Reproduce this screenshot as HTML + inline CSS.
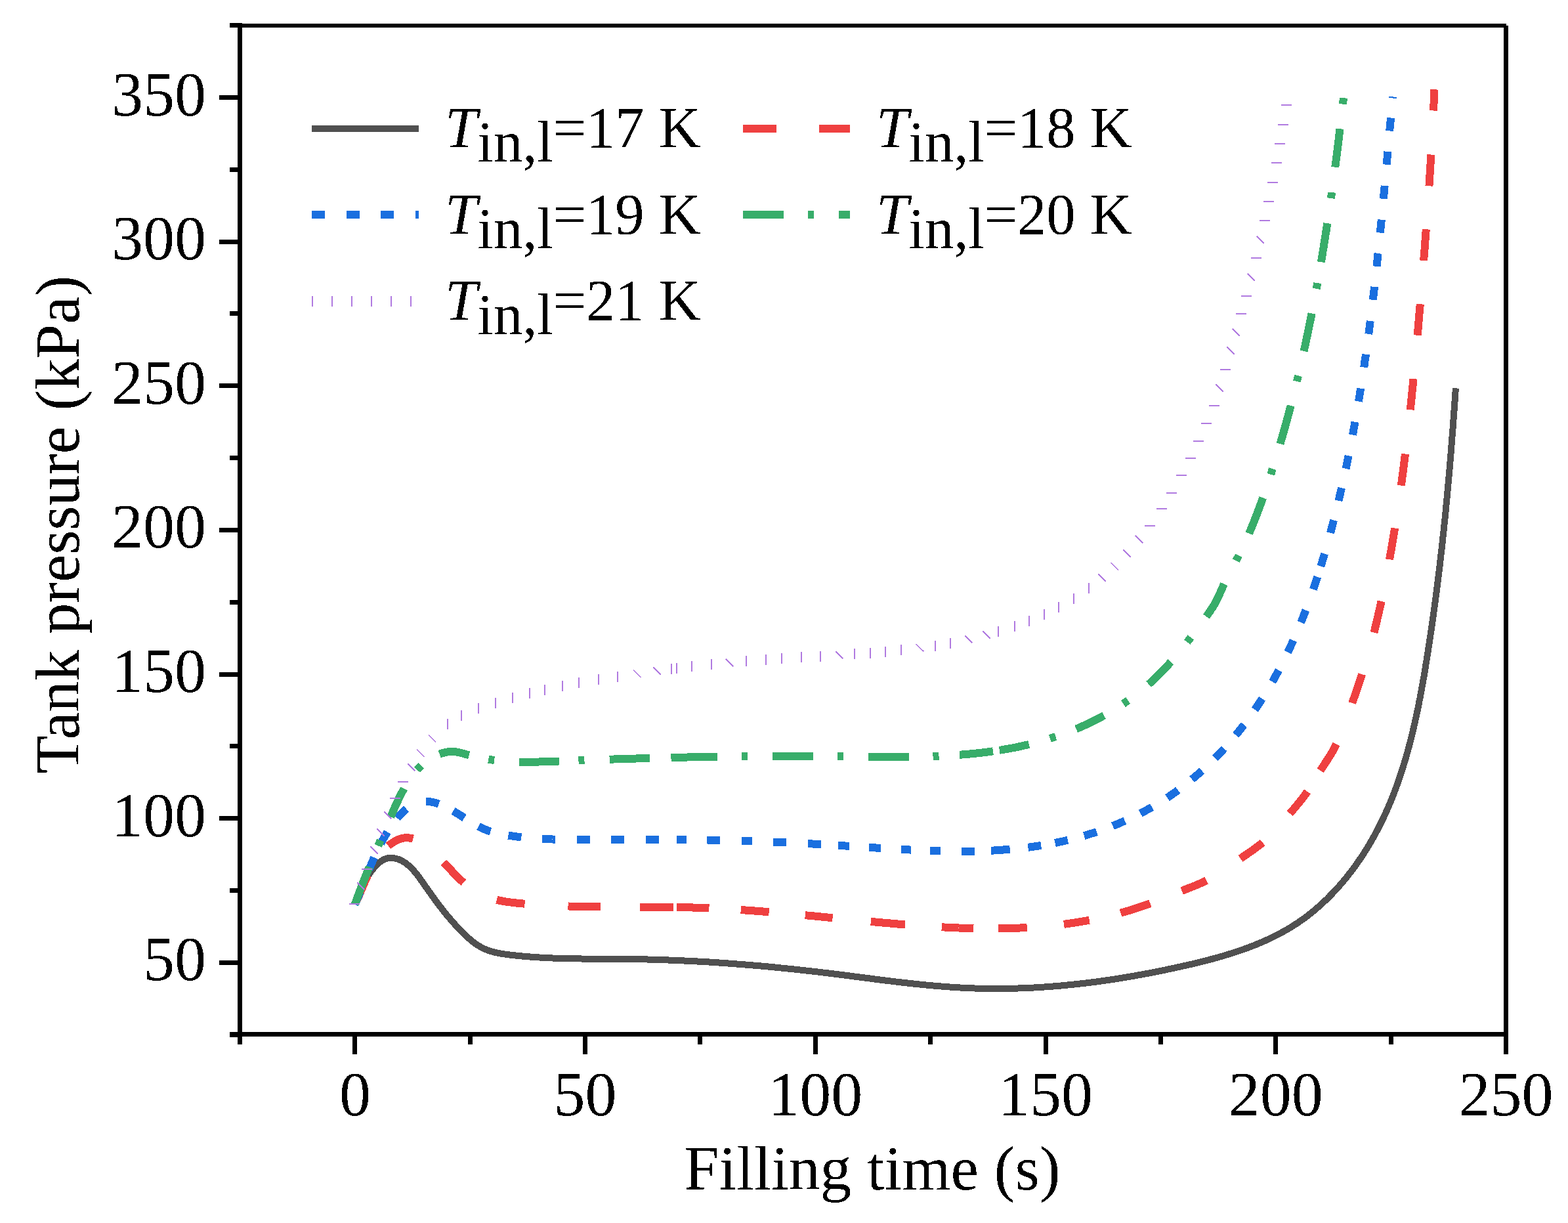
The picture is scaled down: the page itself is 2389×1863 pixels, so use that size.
<!DOCTYPE html><html><head><meta charset="utf-8"><style>html,body{margin:0;padding:0;background:#fff;}svg{display:block;}text{font-family:"Liberation Serif","Times New Roman",serif;fill:#000;}</style></head><body>
<svg width="2389" height="1863" viewBox="0 0 2389 1863">
<defs><filter id="bin" x="0" y="0" width="1" height="1" color-interpolation-filters="sRGB"><feComponentTransfer><feFuncA type="discrete" tableValues="0 1"/></feComponentTransfer></filter></defs>
<rect width="2389" height="1863" fill="#fff"/>
<path d="M540.8,1377.5 541.5,1375.6 542.2,1373.8 543.0,1371.9 543.7,1370.0 544.4,1368.2 545.2,1366.3 545.9,1364.4 546.7,1362.6 547.4,1360.7 548.2,1358.9 549.0,1357.0 549.8,1355.2 550.6,1353.4 551.4,1351.6 552.3,1349.8 553.2,1348.0 554.1,1346.2 555.0,1344.4 555.9,1342.6 556.9,1340.8 557.8,1339.1 558.9,1337.4 559.9,1335.7 561.0,1334.0 562.1,1332.3 563.2,1330.6 564.3,1329.0 565.5,1327.4 566.7,1325.8 568.0,1324.2 569.3,1322.7 570.6,1321.2 571.9,1319.7 573.3,1318.2 574.7,1316.8 576.2,1315.5 577.7,1314.1 579.3,1312.9 580.9,1311.7 582.5,1310.6 584.3,1309.6 586.1,1308.7 588.0,1308.0 589.9,1307.5 591.8,1307.1 593.8,1306.9 595.8,1306.8 597.8,1306.9 599.8,1307.1 601.8,1307.5 603.7,1307.9 605.7,1308.5 607.6,1309.1 609.4,1309.9 611.2,1310.7 613.0,1311.7 614.7,1312.7 616.4,1313.7 618.1,1314.9 619.7,1316.1 621.2,1317.3 622.8,1318.6 624.3,1320.0 625.7,1321.3 627.1,1322.8 628.5,1324.2 629.9,1325.7 631.2,1327.2 632.5,1328.7 633.7,1330.3 635.0,1331.8 636.2,1333.4 637.4,1335.0 638.6,1336.6 639.8,1338.2 641.0,1339.8 642.2,1341.5 643.3,1343.1 644.5,1344.7 645.6,1346.4 646.8,1348.0 647.9,1349.7 649.0,1351.3 650.2,1353.0 651.3,1354.6 652.5,1356.2 653.6,1357.9 654.8,1359.5 656.0,1361.1 657.1,1362.8 658.3,1364.4 659.5,1366.0 660.6,1367.6 661.8,1369.3 663.0,1370.9 664.2,1372.5 665.4,1374.1 666.6,1375.7 667.8,1377.3 669.0,1378.9 670.2,1380.5 671.4,1382.1 672.7,1383.7 673.9,1385.2 675.1,1386.8 676.4,1388.4 677.6,1389.9 678.9,1391.5 680.1,1393.1 681.4,1394.6 682.7,1396.1 684.0,1397.7 685.3,1399.2 686.6,1400.7 687.9,1402.2 689.2,1403.7 690.5,1405.3 691.9,1406.7 693.2,1408.2 694.5,1409.7 695.9,1411.2 697.2,1412.7 698.6,1414.1 700.0,1415.6 701.4,1417.0 702.8,1418.5 704.2,1419.9 705.6,1421.3 707.0,1422.7 708.4,1424.1 709.9,1425.5 711.4,1426.9 712.8,1428.2 714.3,1429.5 715.9,1430.8 717.4,1432.1 719.0,1433.4 720.5,1434.6 722.1,1435.8 723.7,1437.0 725.4,1438.2 727.0,1439.3 728.7,1440.4 730.4,1441.4 732.2,1442.4 733.9,1443.4 735.7,1444.3 737.5,1445.2 739.3,1446.0 741.2,1446.7 743.1,1447.5 744.9,1448.1 746.8,1448.8 748.8,1449.4 750.7,1449.9 752.6,1450.4 754.6,1450.9 756.5,1451.3 758.5,1451.7 760.5,1452.1 762.4,1452.5 764.4,1452.8 766.4,1453.1 768.4,1453.4 770.3,1453.7 772.3,1454.0 774.3,1454.2 776.3,1454.5 778.3,1454.7 780.3,1454.9 782.3,1455.2 784.3,1455.4 786.2,1455.6 788.2,1455.8 790.2,1456.0 792.2,1456.2 794.2,1456.4 796.2,1456.6 798.2,1456.8 800.2,1457.0 802.2,1457.1 804.2,1457.3 806.2,1457.4 808.2,1457.6 810.2,1457.7 812.2,1457.9 814.2,1458.0 816.2,1458.2 818.2,1458.3 820.2,1458.4 822.2,1458.5 824.2,1458.6 826.2,1458.8 828.2,1458.9 830.2,1459.0 832.2,1459.1 834.2,1459.1 836.2,1459.2 838.2,1459.3 840.2,1459.4 842.2,1459.5 844.2,1459.6 846.2,1459.6 848.2,1459.7 850.2,1459.8 852.2,1459.8 854.2,1459.9 856.2,1459.9 858.2,1460.0 860.2,1460.0 862.2,1460.1 864.2,1460.1 866.2,1460.2 868.2,1460.2 870.2,1460.2 872.2,1460.3 874.2,1460.3 876.2,1460.3 878.2,1460.4 880.2,1460.4 882.2,1460.4 884.2,1460.4 886.2,1460.5 888.2,1460.5 890.2,1460.5 892.2,1460.5 894.2,1460.5 896.2,1460.5 898.2,1460.6 900.2,1460.6 902.2,1460.6 904.2,1460.6 906.2,1460.6 908.2,1460.6 910.2,1460.6 912.2,1460.6 914.2,1460.6 916.2,1460.6 918.3,1460.7 920.3,1460.7 922.3,1460.7 924.3,1460.7 926.3,1460.7 928.3,1460.7 930.3,1460.7 932.3,1460.7 934.3,1460.7 936.3,1460.7 938.3,1460.7 940.3,1460.8 942.3,1460.8 944.3,1460.8 946.3,1460.8 948.3,1460.8 950.3,1460.8 952.3,1460.9 954.3,1460.9 956.3,1460.9 958.3,1460.9 960.3,1461.0 962.3,1461.0 964.3,1461.0 966.3,1461.1 968.3,1461.1 970.3,1461.1 972.3,1461.2 974.3,1461.2 976.3,1461.2 978.3,1461.3 980.3,1461.3 982.3,1461.4 984.3,1461.4 986.3,1461.5 988.3,1461.5 990.3,1461.6 992.3,1461.6 994.3,1461.7 996.3,1461.7 998.3,1461.8 1000.3,1461.9 1002.3,1461.9 1004.3,1462.0 1006.3,1462.0 1008.3,1462.1 1010.3,1462.2 1012.4,1462.2 1014.4,1462.3 1016.4,1462.4 1018.4,1462.5 1020.4,1462.5 1022.4,1462.6 1024.4,1462.7 1026.4,1462.8 1028.4,1462.9 1030.4,1462.9 1032.4,1463.0 1034.4,1463.1 1036.4,1463.2 1038.4,1463.3 1040.4,1463.4 1042.4,1463.5 1044.4,1463.6 1046.4,1463.7 1048.4,1463.8 1050.4,1463.9 1052.4,1464.0 1054.4,1464.1 1056.4,1464.2 1058.4,1464.3 1060.4,1464.4 1062.4,1464.5 1064.4,1464.6 1066.4,1464.7 1068.4,1464.8 1070.4,1465.0 1072.4,1465.1 1074.4,1465.2 1076.4,1465.3 1078.4,1465.4 1080.4,1465.5 1082.4,1465.7 1084.4,1465.8 1086.3,1465.9 1088.3,1466.1 1090.3,1466.2 1092.3,1466.3 1094.3,1466.4 1096.3,1466.6 1098.3,1466.7 1100.3,1466.9 1102.3,1467.0 1104.3,1467.1 1106.3,1467.3 1108.3,1467.4 1110.3,1467.6 1112.3,1467.7 1114.3,1467.8 1116.3,1468.0 1118.3,1468.1 1120.3,1468.3 1122.3,1468.5 1124.3,1468.6 1126.3,1468.8 1128.3,1468.9 1130.3,1469.1 1132.3,1469.2 1134.3,1469.4 1136.3,1469.6 1138.3,1469.7 1140.3,1469.9 1142.3,1470.1 1144.3,1470.2 1146.3,1470.4 1148.3,1470.6 1150.2,1470.7 1152.2,1470.9 1154.2,1471.1 1156.2,1471.3 1158.2,1471.4 1160.2,1471.6 1162.2,1471.8 1164.2,1472.0 1166.2,1472.2 1168.2,1472.3 1170.2,1472.5 1172.2,1472.7 1174.2,1472.9 1176.2,1473.1 1178.2,1473.3 1180.2,1473.5 1182.2,1473.7 1184.1,1473.9 1186.1,1474.1 1188.1,1474.3 1190.1,1474.5 1192.1,1474.7 1194.1,1474.9 1196.1,1475.1 1198.1,1475.3 1200.1,1475.5 1202.1,1475.7 1204.1,1475.9 1206.1,1476.1 1208.1,1476.3 1210.0,1476.5 1212.0,1476.7 1214.0,1476.9 1216.0,1477.2 1218.0,1477.4 1220.0,1477.6 1222.0,1477.8 1224.0,1478.0 1226.0,1478.2 1228.0,1478.5 1229.9,1478.7 1231.9,1478.9 1233.9,1479.1 1235.9,1479.4 1237.9,1479.6 1239.9,1479.8 1241.9,1480.1 1243.9,1480.3 1245.9,1480.5 1247.9,1480.8 1249.8,1481.0 1251.8,1481.2 1253.8,1481.5 1255.8,1481.7 1257.8,1481.9 1259.8,1482.2 1261.8,1482.4 1263.8,1482.7 1265.7,1482.9 1267.7,1483.2 1269.7,1483.4 1271.7,1483.7 1273.7,1483.9 1275.7,1484.2 1277.7,1484.4 1279.7,1484.7 1281.6,1484.9 1283.6,1485.2 1285.6,1485.4 1287.6,1485.7 1289.6,1485.9 1291.6,1486.2 1293.6,1486.4 1295.5,1486.7 1297.5,1486.9 1299.5,1487.2 1301.5,1487.5 1303.5,1487.7 1305.5,1488.0 1307.5,1488.2 1309.4,1488.5 1311.4,1488.7 1313.4,1489.0 1315.4,1489.3 1317.4,1489.5 1319.4,1489.8 1321.4,1490.0 1323.4,1490.3 1325.3,1490.5 1327.3,1490.8 1329.3,1491.0 1331.3,1491.3 1333.3,1491.6 1335.3,1491.8 1337.3,1492.1 1339.2,1492.3 1341.2,1492.6 1343.2,1492.8 1345.2,1493.1 1347.2,1493.3 1349.2,1493.6 1351.2,1493.8 1353.2,1494.0 1355.1,1494.3 1357.1,1494.5 1359.1,1494.8 1361.1,1495.0 1363.1,1495.3 1365.1,1495.5 1367.1,1495.7 1369.1,1496.0 1371.0,1496.2 1373.0,1496.4 1375.0,1496.7 1377.0,1496.9 1379.0,1497.1 1381.0,1497.3 1383.0,1497.6 1385.0,1497.8 1387.0,1498.0 1389.0,1498.2 1390.9,1498.4 1392.9,1498.7 1394.9,1498.9 1396.9,1499.1 1398.9,1499.3 1400.9,1499.5 1402.9,1499.7 1404.9,1499.9 1406.9,1500.1 1408.9,1500.3 1410.9,1500.5 1412.9,1500.7 1414.9,1500.9 1416.8,1501.1 1418.8,1501.2 1420.8,1501.4 1422.8,1501.6 1424.8,1501.8 1426.8,1501.9 1428.8,1502.1 1430.8,1502.3 1432.8,1502.4 1434.8,1502.6 1436.8,1502.8 1438.8,1502.9 1440.8,1503.1 1442.8,1503.2 1444.8,1503.4 1446.8,1503.5 1448.8,1503.6 1450.8,1503.8 1452.8,1503.9 1454.8,1504.0 1456.8,1504.2 1458.8,1504.3 1460.8,1504.4 1462.8,1504.5 1464.8,1504.6 1466.8,1504.7 1468.8,1504.8 1470.8,1504.9 1472.8,1505.0 1474.8,1505.1 1476.8,1505.2 1478.8,1505.3 1480.8,1505.3 1482.8,1505.4 1484.8,1505.5 1486.8,1505.5 1488.8,1505.6 1490.8,1505.7 1492.8,1505.7 1494.8,1505.8 1496.8,1505.8 1498.8,1505.8 1500.8,1505.9 1502.8,1505.9 1504.8,1505.9 1506.8,1506.0 1508.8,1506.0 1510.8,1506.0 1512.8,1506.0 1514.8,1506.0 1516.8,1506.0 1518.8,1506.0 1520.8,1506.0 1522.8,1506.0 1524.8,1506.0 1526.8,1506.0 1528.8,1506.0 1530.8,1505.9 1532.8,1505.9 1534.8,1505.9 1536.8,1505.8 1538.8,1505.8 1540.8,1505.8 1542.8,1505.7 1544.8,1505.7 1546.8,1505.6 1548.8,1505.6 1550.8,1505.5 1552.8,1505.4 1554.9,1505.4 1556.9,1505.3 1558.9,1505.2 1560.9,1505.1 1562.9,1505.1 1564.9,1505.0 1566.9,1504.9 1568.9,1504.8 1570.9,1504.7 1572.9,1504.6 1574.9,1504.5 1576.9,1504.4 1578.9,1504.3 1580.9,1504.1 1582.9,1504.0 1584.9,1503.9 1586.9,1503.8 1588.8,1503.6 1590.8,1503.5 1592.8,1503.4 1594.8,1503.2 1596.8,1503.1 1598.8,1502.9 1600.8,1502.8 1602.8,1502.6 1604.8,1502.5 1606.8,1502.3 1608.8,1502.2 1610.8,1502.0 1612.8,1501.8 1614.8,1501.6 1616.8,1501.5 1618.8,1501.3 1620.8,1501.1 1622.8,1500.9 1624.8,1500.7 1626.8,1500.5 1628.8,1500.3 1630.8,1500.1 1632.7,1499.9 1634.7,1499.7 1636.7,1499.5 1638.7,1499.3 1640.7,1499.1 1642.7,1498.9 1644.7,1498.6 1646.7,1498.4 1648.7,1498.2 1650.7,1498.0 1652.6,1497.7 1654.6,1497.5 1656.6,1497.2 1658.6,1497.0 1660.6,1496.7 1662.6,1496.5 1664.6,1496.2 1666.6,1496.0 1668.5,1495.7 1670.5,1495.5 1672.5,1495.2 1674.5,1494.9 1676.5,1494.6 1678.5,1494.4 1680.4,1494.1 1682.4,1493.8 1684.4,1493.5 1686.4,1493.2 1688.4,1493.0 1690.4,1492.7 1692.3,1492.4 1694.3,1492.1 1696.3,1491.8 1698.3,1491.5 1700.3,1491.2 1702.2,1490.8 1704.2,1490.5 1706.2,1490.2 1708.2,1489.9 1710.1,1489.6 1712.1,1489.3 1714.1,1488.9 1716.1,1488.6 1718.0,1488.3 1720.0,1487.9 1722.0,1487.6 1724.0,1487.3 1725.9,1486.9 1727.9,1486.6 1729.9,1486.2 1731.9,1485.9 1733.8,1485.5 1735.8,1485.2 1737.8,1484.8 1739.7,1484.4 1741.7,1484.1 1743.7,1483.7 1745.6,1483.3 1747.6,1483.0 1749.6,1482.6 1751.5,1482.2 1753.5,1481.8 1755.5,1481.5 1757.4,1481.1 1759.4,1480.7 1761.4,1480.3 1763.3,1479.9 1765.3,1479.5 1767.3,1479.1 1769.2,1478.7 1771.2,1478.3 1773.1,1477.9 1775.1,1477.5 1777.1,1477.1 1779.0,1476.7 1781.0,1476.3 1782.9,1475.9 1784.9,1475.4 1786.9,1475.0 1788.8,1474.6 1790.8,1474.2 1792.7,1473.8 1794.7,1473.3 1796.6,1472.9 1798.6,1472.5 1800.6,1472.0 1802.5,1471.6 1804.5,1471.2 1806.4,1470.7 1808.4,1470.3 1810.3,1469.8 1812.3,1469.4 1814.2,1468.9 1816.2,1468.5 1818.1,1468.0 1820.1,1467.5 1822.0,1467.1 1824.0,1466.6 1825.9,1466.1 1827.9,1465.7 1829.8,1465.2 1831.7,1464.7 1833.7,1464.2 1835.6,1463.7 1837.6,1463.2 1839.5,1462.7 1841.4,1462.2 1843.4,1461.7 1845.3,1461.2 1847.3,1460.7 1849.2,1460.2 1851.1,1459.6 1853.0,1459.1 1855.0,1458.6 1856.9,1458.0 1858.8,1457.5 1860.8,1456.9 1862.7,1456.4 1864.6,1455.8 1866.5,1455.2 1868.4,1454.6 1870.4,1454.1 1872.3,1453.5 1874.2,1452.9 1876.1,1452.3 1878.0,1451.7 1879.9,1451.1 1881.8,1450.4 1883.7,1449.8 1885.6,1449.2 1887.5,1448.5 1889.4,1447.9 1891.3,1447.2 1893.2,1446.6 1895.1,1445.9 1897.0,1445.2 1898.8,1444.6 1900.7,1443.9 1902.6,1443.2 1904.5,1442.5 1906.3,1441.7 1908.2,1441.0 1910.1,1440.3 1911.9,1439.6 1913.8,1438.8 1915.6,1438.0 1917.5,1437.3 1919.3,1436.5 1921.2,1435.7 1923.0,1434.9 1924.9,1434.1 1926.7,1433.3 1928.5,1432.5 1930.3,1431.7 1932.2,1430.8 1934.0,1430.0 1935.8,1429.1 1937.6,1428.3 1939.4,1427.4 1941.2,1426.5 1943.0,1425.6 1944.8,1424.7 1946.6,1423.8 1948.3,1422.9 1950.1,1421.9 1951.9,1421.0 1953.6,1420.0 1955.4,1419.1 1957.1,1418.1 1958.9,1417.1 1960.6,1416.1 1962.3,1415.1 1964.0,1414.0 1965.8,1413.0 1967.5,1412.0 1969.2,1410.9 1970.9,1409.8 1972.6,1408.8 1974.2,1407.7 1975.9,1406.6 1977.6,1405.5 1979.2,1404.3 1980.9,1403.2 1982.5,1402.1 1984.2,1400.9 1985.8,1399.7 1987.4,1398.6 1989.0,1397.4 1990.6,1396.2 1992.2,1395.0 1993.8,1393.7 1995.4,1392.5 1996.9,1391.3 1998.5,1390.0 2000.1,1388.7 2001.6,1387.5 2003.1,1386.2 2004.7,1384.9 2006.2,1383.6 2007.7,1382.3 2009.2,1381.0 2010.7,1379.6 2012.2,1378.3 2013.7,1376.9 2015.2,1375.6 2016.6,1374.2 2018.1,1372.8 2019.5,1371.5 2021.0,1370.1 2022.4,1368.7 2023.8,1367.3 2025.2,1365.9 2026.6,1364.4 2028.0,1363.0 2029.4,1361.6 2030.8,1360.1 2032.2,1358.7 2033.6,1357.2 2034.9,1355.7 2036.3,1354.3 2037.6,1352.8 2039.0,1351.3 2040.3,1349.8 2041.6,1348.3 2042.9,1346.8 2044.2,1345.3 2045.5,1343.7 2046.8,1342.2 2048.1,1340.7 2049.4,1339.1 2050.7,1337.6 2051.9,1336.0 2053.2,1334.4 2054.4,1332.9 2055.6,1331.3 2056.9,1329.7 2058.1,1328.1 2059.3,1326.5 2060.5,1324.9 2061.7,1323.3 2062.9,1321.7 2064.1,1320.1 2065.3,1318.5 2066.4,1316.9 2067.6,1315.2 2068.7,1313.6 2069.9,1311.9 2071.0,1310.3 2072.1,1308.6 2073.3,1307.0 2074.4,1305.3 2075.5,1303.6 2076.6,1302.0 2077.7,1300.3 2078.7,1298.6 2079.8,1296.9 2080.9,1295.2 2081.9,1293.5 2083.0,1291.8 2084.0,1290.1 2085.1,1288.4 2086.1,1286.7 2087.1,1284.9 2088.1,1283.2 2089.1,1281.5 2090.1,1279.8 2091.1,1278.0 2092.1,1276.3 2093.1,1274.5 2094.1,1272.8 2095.0,1271.0 2096.0,1269.3 2096.9,1267.5 2097.9,1265.7 2098.8,1263.9 2099.7,1262.2 2100.6,1260.4 2101.5,1258.6 2102.4,1256.8 2103.3,1255.0 2104.2,1253.2 2105.1,1251.4 2106.0,1249.6 2106.8,1247.8 2107.7,1246.0 2108.6,1244.2 2109.4,1242.4 2110.2,1240.6 2111.1,1238.7 2111.9,1236.9 2112.7,1235.1 2113.5,1233.3 2114.3,1231.4 2115.1,1229.6 2115.9,1227.8 2116.7,1225.9 2117.5,1224.1 2118.3,1222.2 2119.0,1220.4 2119.8,1218.5 2120.5,1216.7 2121.3,1214.8 2122.0,1212.9 2122.7,1211.1 2123.5,1209.2 2124.2,1207.3 2124.9,1205.5 2125.6,1203.6 2126.3,1201.7 2127.0,1199.8 2127.7,1198.0 2128.4,1196.1 2129.0,1194.2 2129.7,1192.3 2130.4,1190.4 2131.0,1188.5 2131.7,1186.6 2132.3,1184.7 2133.0,1182.8 2133.6,1180.9 2134.2,1179.0 2134.9,1177.1 2135.5,1175.2 2136.1,1173.3 2136.7,1171.4 2137.3,1169.5 2137.9,1167.6 2138.5,1165.7 2139.1,1163.8 2139.7,1161.8 2140.3,1159.9 2140.8,1158.0 2141.4,1156.1 2142.0,1154.2 2142.5,1152.2 2143.1,1150.3 2143.6,1148.4 2144.2,1146.5 2144.7,1144.5 2145.2,1142.6 2145.7,1140.7 2146.3,1138.7 2146.8,1136.8 2147.3,1134.9 2147.8,1132.9 2148.3,1131.0 2148.8,1129.1 2149.3,1127.1 2149.8,1125.2 2150.3,1123.2 2150.8,1121.3 2151.3,1119.4 2151.7,1117.4 2152.2,1115.5 2152.7,1113.5 2153.1,1111.6 2153.6,1109.6 2154.1,1107.7 2154.5,1105.7 2155.0,1103.8 2155.4,1101.8 2155.8,1099.9 2156.3,1097.9 2156.7,1095.9 2157.1,1094.0 2157.6,1092.0 2158.0,1090.1 2158.4,1088.1 2158.8,1086.2 2159.2,1084.2 2159.7,1082.2 2160.1,1080.3 2160.5,1078.3 2160.9,1076.4 2161.3,1074.4 2161.7,1072.4 2162.0,1070.5 2162.4,1068.5 2162.8,1066.5 2163.2,1064.6 2163.6,1062.6 2164.0,1060.6 2164.3,1058.7 2164.7,1056.7 2165.1,1054.7 2165.4,1052.8 2165.8,1050.8 2166.2,1048.8 2166.5,1046.9 2166.9,1044.9 2167.2,1042.9 2167.6,1040.9 2167.9,1039.0 2168.3,1037.0 2168.6,1035.0 2169.0,1033.1 2169.3,1031.1 2169.7,1029.1 2170.0,1027.1 2170.3,1025.2 2170.7,1023.2 2171.0,1021.2 2171.3,1019.2 2171.7,1017.3 2172.0,1015.3 2172.3,1013.3 2172.6,1011.3 2173.0,1009.4 2173.3,1007.4 2173.6,1005.4 2173.9,1003.4 2174.2,1001.5 2174.5,999.5 2174.9,997.5 2175.2,995.5 2175.5,993.5 2175.8,991.6 2176.1,989.6 2176.4,987.6 2176.7,985.6 2177.0,983.6 2177.3,981.7 2177.6,979.7 2177.9,977.7 2178.2,975.7 2178.5,973.7 2178.8,971.8 2179.1,969.8 2179.4,967.8 2179.7,965.8 2180.0,963.8 2180.3,961.9 2180.6,959.9 2180.9,957.9 2181.2,955.9 2181.5,953.9 2181.7,952.0 2182.0,950.0 2182.3,948.0 2182.6,946.0 2182.9,944.0 2183.2,942.0 2183.4,940.1 2183.7,938.1 2184.0,936.1 2184.3,934.1 2184.5,932.1 2184.8,930.1 2185.1,928.2 2185.4,926.2 2185.6,924.2 2185.9,922.2 2186.2,920.2 2186.4,918.2 2186.7,916.3 2187.0,914.3 2187.2,912.3 2187.5,910.3 2187.7,908.3 2188.0,906.3 2188.3,904.3 2188.5,902.4 2188.8,900.4 2189.0,898.4 2189.3,896.4 2189.5,894.4 2189.8,892.4 2190.0,890.4 2190.3,888.4 2190.5,886.5 2190.8,884.5 2191.0,882.5 2191.3,880.5 2191.5,878.5 2191.8,876.5 2192.0,874.5 2192.3,872.6 2192.5,870.6 2192.7,868.6 2193.0,866.6 2193.2,864.6 2193.5,862.6 2193.7,860.6 2193.9,858.6 2194.2,856.6 2194.4,854.7 2194.6,852.7 2194.9,850.7 2195.1,848.7 2195.3,846.7 2195.5,844.7 2195.8,842.7 2196.0,840.7 2196.2,838.7 2196.5,836.7 2196.7,834.8 2196.9,832.8 2197.1,830.8 2197.3,828.8 2197.6,826.8 2197.8,824.8 2198.0,822.8 2198.2,820.8 2198.4,818.8 2198.6,816.8 2198.9,814.9 2199.1,812.9 2199.3,810.9 2199.5,808.9 2199.7,806.9 2199.9,804.9 2200.1,802.9 2200.3,800.9 2200.5,798.9 2200.7,796.9 2200.9,794.9 2201.1,792.9 2201.4,791.0 2201.6,789.0 2201.8,787.0 2202.0,785.0 2202.2,783.0 2202.4,781.0 2202.6,779.0 2202.7,777.0 2202.9,775.0 2203.1,773.0 2203.3,771.0 2203.5,769.0 2203.7,767.0 2203.9,765.0 2204.1,763.1 2204.3,761.1 2204.5,759.1 2204.7,757.1 2204.9,755.1 2205.0,753.1 2205.2,751.1 2205.4,749.1 2205.6,747.1 2205.8,745.1 2206.0,743.1 2206.2,741.1 2206.3,739.1 2206.5,737.1 2206.7,735.1 2206.9,733.1 2207.1,731.1 2207.2,729.2 2207.4,727.2 2207.6,725.2 2207.8,723.2 2207.9,721.2 2208.1,719.2 2208.3,717.2 2208.5,715.2 2208.6,713.2 2208.8,711.2 2209.0,709.2 2209.1,707.2 2209.3,705.2 2209.5,703.2 2209.6,701.2 2209.8,699.2 2210.0,697.2 2210.1,695.2 2210.3,693.2 2210.5,691.2 2210.6,689.2 2210.8,687.3 2211.0,685.3 2211.1,683.3 2211.3,681.3 2211.4,679.3 2211.6,677.3 2211.8,675.3 2211.9,673.3 2212.1,671.3 2212.2,669.3 2212.4,667.3 2212.5,665.3 2212.7,663.3 2212.9,661.3 2213.0,659.3 2213.2,657.3 2213.3,655.3 2213.5,653.3 2213.6,651.3 2213.8,649.3 2213.9,647.3 2214.1,645.3 2214.2,643.3 2214.4,641.3 2214.5,639.3 2214.7,637.3 2214.8,635.3 2214.9,633.3 2215.1,631.3 2215.2,629.4 2215.4,627.4 2215.5,625.4 2215.7,623.4 2215.8,621.4 2216.0,619.4 2216.1,617.4 2216.2,615.4 2216.4,613.4 2216.5,611.4 2216.7,609.4 2216.8,607.4 2216.9,605.4 2217.1,603.4 2217.2,601.4 2217.4,599.4 2217.5,597.4 2217.6,595.4 2217.8,593.4 2217.9,591.4" fill="none" stroke="#505050" stroke-width="10" stroke-linejoin="round" shape-rendering="crispEdges"/>
<path d="M540.5,1378.0 541.4,1376.2 542.3,1374.4 543.1,1372.6 544.0,1370.8 544.8,1369.0 545.7,1367.2 546.5,1365.3 547.3,1363.5 548.1,1361.7 548.9,1359.8 549.6,1358.0 550.4,1356.1 551.2,1354.3 552.0,1352.4 552.8,1350.6 553.5,1348.8 554.3,1346.9 555.1,1345.1 555.9,1343.2 556.7,1341.4 557.5,1339.6 558.3,1337.7 559.1,1335.9 560.0,1334.1 560.8,1332.3 561.7,1330.5 562.5,1328.6 563.4,1326.8 564.3,1325.1 565.2,1323.3 566.1,1321.5 567.1,1319.7 568.1,1318.0 569.1,1316.3 570.1,1314.5 571.1,1312.8 572.2,1311.1 573.3,1309.4 574.4,1307.8 575.5,1306.1 576.7,1304.5 577.9,1302.9 579.1,1301.3 580.4,1299.8 581.7,1298.2 583.0,1296.7 584.4,1295.3 585.8,1293.8 587.2,1292.4 588.6,1291.1 590.1,1289.7 591.7,1288.4 593.2,1287.2 594.8,1286.0 596.4,1284.8 598.1,1283.7 599.8,1282.6 601.5,1281.6 603.3,1280.6 605.1,1279.8 606.9,1279.0 608.8,1278.3 610.7,1277.6 612.6,1277.1 614.6,1276.7 616.6,1276.4 618.6,1276.3 620.6,1276.2 622.6,1276.3 624.5,1276.6 626.5,1276.9 628.5,1277.4 630.4,1277.9 632.3,1278.6 634.1,1279.4 635.9,1280.2 637.7,1281.1 639.5,1282.1 641.2,1283.1 642.9,1284.2 644.5,1285.3 646.2,1286.5 647.8,1287.7 649.4,1288.9 650.9,1290.1 652.5,1291.4 654.0,1292.6 655.6,1293.9 657.1,1295.3 658.6,1296.6 660.1,1297.9 661.5,1299.3 663.0,1300.6 664.4,1302.0 665.9,1303.4 667.3,1304.8 668.7,1306.2 670.1,1307.7 671.5,1309.1 672.9,1310.5 674.3,1312.0 675.7,1313.4 677.1,1314.9 678.5,1316.3 679.8,1317.8 681.2,1319.2 682.6,1320.7 683.9,1322.2 685.3,1323.6 686.7,1325.1 688.1,1326.5 689.4,1328.0 690.8,1329.4 692.2,1330.9 693.6,1332.3 695.0,1333.7 696.4,1335.2 697.8,1336.6 699.3,1338.0 700.7,1339.4 702.1,1340.8 703.6,1342.1 705.1,1343.5 706.6,1344.8 708.1,1346.1 709.6,1347.4 711.1,1348.7 712.7,1350.0 714.3,1351.2 715.9,1352.4 717.5,1353.6 719.1,1354.7 720.8,1355.9 722.4,1357.0 724.1,1358.0 725.9,1359.1 727.6,1360.0 729.4,1361.0 731.1,1361.9 733.0,1362.8 734.8,1363.6 736.6,1364.4 738.5,1365.2 740.3,1365.9 742.2,1366.6 744.1,1367.2 746.0,1367.9 747.9,1368.4 749.8,1369.0 751.8,1369.5 753.7,1370.0 755.7,1370.5 757.6,1371.0 759.6,1371.4 761.5,1371.8 763.5,1372.2 765.4,1372.6 767.4,1372.9 769.4,1373.3 771.4,1373.6 773.3,1373.9 775.3,1374.1 777.3,1374.4 779.3,1374.7 781.3,1374.9 783.3,1375.2 785.3,1375.4 787.3,1375.6 789.2,1375.8 791.2,1376.0 793.2,1376.2 795.2,1376.4 797.2,1376.5 799.2,1376.7 801.2,1376.9 803.2,1377.0 805.2,1377.2 807.2,1377.4 809.2,1377.5 811.2,1377.7 813.2,1377.8 815.2,1377.9 817.2,1378.1 819.2,1378.2 821.2,1378.3 823.2,1378.5 825.2,1378.6 827.2,1378.7 829.2,1378.8 831.2,1378.9 833.2,1379.0 835.2,1379.2 837.2,1379.3 839.2,1379.4 841.2,1379.5 843.2,1379.5 845.2,1379.6 847.2,1379.7 849.2,1379.8 851.2,1379.9 853.2,1380.0 855.2,1380.0 857.2,1380.1 859.2,1380.2 861.2,1380.3 863.2,1380.3 865.2,1380.4 867.2,1380.5 869.2,1380.5 871.2,1380.6 873.2,1380.6 875.2,1380.7 877.2,1380.7 879.2,1380.8 881.2,1380.8 883.2,1380.9 885.2,1380.9 887.2,1380.9 889.2,1381.0 891.2,1381.0 893.2,1381.1 895.2,1381.1 897.2,1381.1 899.2,1381.2 901.2,1381.2 903.2,1381.2 905.2,1381.2 907.2,1381.3 909.2,1381.3 911.2,1381.3 913.2,1381.3 915.2,1381.3 917.2,1381.4 919.2,1381.4 921.2,1381.4 923.2,1381.4 925.2,1381.4 927.2,1381.4 929.2,1381.4 931.2,1381.4 933.2,1381.5 935.2,1381.5 937.2,1381.5 939.2,1381.5 941.2,1381.5 943.2,1381.5 945.2,1381.5 947.2,1381.5 949.2,1381.5 951.2,1381.5 953.2,1381.5 955.2,1381.5 957.2,1381.5 959.2,1381.5 961.2,1381.5 963.3,1381.5 965.3,1381.6 967.3,1381.6 969.3,1381.6 971.3,1381.6 973.3,1381.6 975.3,1381.6 977.3,1381.6 979.3,1381.6 981.3,1381.6 983.3,1381.6 985.3,1381.6 987.3,1381.6 989.3,1381.6 991.3,1381.6 993.3,1381.6 995.3,1381.6 997.3,1381.7 999.3,1381.7 1001.3,1381.7 1003.3,1381.7 1005.3,1381.7 1007.3,1381.7 1009.3,1381.7 1011.3,1381.7 1013.3,1381.8 1015.3,1381.8 1017.3,1381.8 1019.3,1381.8 1021.3,1381.9 1023.3,1381.9 1025.3,1381.9 1027.3,1381.9 1029.3,1382.0 1031.3,1382.0 1033.3,1382.0 1035.3,1382.1 1037.3,1382.1 1039.3,1382.1 1041.3,1382.2 1043.3,1382.2 1045.3,1382.3 1047.3,1382.3 1049.3,1382.3 1051.3,1382.4 1053.3,1382.4 1055.3,1382.5 1057.3,1382.6 1059.3,1382.6 1061.3,1382.7 1063.3,1382.7 1065.3,1382.8 1067.3,1382.9 1069.3,1382.9 1071.3,1383.0 1073.3,1383.1 1075.3,1383.2 1077.3,1383.2 1079.3,1383.3 1081.3,1383.4 1083.3,1383.5 1085.3,1383.6 1087.3,1383.7 1089.3,1383.8 1091.3,1383.9 1093.3,1384.0 1095.3,1384.1 1097.3,1384.2 1099.3,1384.3 1101.3,1384.4 1103.3,1384.5 1105.3,1384.6 1107.3,1384.7 1109.3,1384.8 1111.3,1384.9 1113.3,1385.0 1115.3,1385.2 1117.3,1385.3 1119.3,1385.4 1121.3,1385.5 1123.3,1385.7 1125.3,1385.8 1127.3,1385.9 1129.3,1386.1 1131.3,1386.2 1133.3,1386.3 1135.3,1386.5 1137.3,1386.6 1139.3,1386.7 1141.3,1386.9 1143.3,1387.0 1145.3,1387.2 1147.3,1387.3 1149.3,1387.5 1151.3,1387.6 1153.3,1387.8 1155.3,1387.9 1157.3,1388.1 1159.3,1388.2 1161.3,1388.4 1163.3,1388.6 1165.2,1388.7 1167.2,1388.9 1169.2,1389.0 1171.2,1389.2 1173.2,1389.4 1175.2,1389.5 1177.2,1389.7 1179.2,1389.9 1181.2,1390.0 1183.2,1390.2 1185.2,1390.4 1187.2,1390.6 1189.2,1390.7 1191.2,1390.9 1193.2,1391.1 1195.2,1391.3 1197.2,1391.4 1199.2,1391.6 1201.2,1391.8 1203.1,1392.0 1205.1,1392.2 1207.1,1392.3 1209.1,1392.5 1211.1,1392.7 1213.1,1392.9 1215.1,1393.1 1217.1,1393.3 1219.1,1393.4 1221.1,1393.6 1223.1,1393.8 1225.1,1394.0 1227.1,1394.2 1229.1,1394.4 1231.1,1394.6 1233.0,1394.8 1235.0,1395.0 1237.0,1395.1 1239.0,1395.3 1241.0,1395.5 1243.0,1395.7 1245.0,1395.9 1247.0,1396.1 1249.0,1396.3 1251.0,1396.5 1253.0,1396.7 1255.0,1396.9 1257.0,1397.1 1258.9,1397.3 1260.9,1397.5 1262.9,1397.7 1264.9,1397.9 1266.9,1398.1 1268.9,1398.3 1270.9,1398.4 1272.9,1398.6 1274.9,1398.8 1276.9,1399.0 1278.9,1399.2 1280.9,1399.4 1282.9,1399.6 1284.8,1399.8 1286.8,1400.0 1288.8,1400.2 1290.8,1400.4 1292.8,1400.6 1294.8,1400.8 1296.8,1401.0 1298.8,1401.2 1300.8,1401.4 1302.8,1401.6 1304.8,1401.7 1306.8,1401.9 1308.8,1402.1 1310.8,1402.3 1312.7,1402.5 1314.7,1402.7 1316.7,1402.9 1318.7,1403.1 1320.7,1403.3 1322.7,1403.5 1324.7,1403.6 1326.7,1403.8 1328.7,1404.0 1330.7,1404.2 1332.7,1404.4 1334.7,1404.6 1336.7,1404.8 1338.7,1404.9 1340.7,1405.1 1342.6,1405.3 1344.6,1405.5 1346.6,1405.7 1348.6,1405.8 1350.6,1406.0 1352.6,1406.2 1354.6,1406.4 1356.6,1406.5 1358.6,1406.7 1360.6,1406.9 1362.6,1407.1 1364.6,1407.2 1366.6,1407.4 1368.6,1407.6 1370.6,1407.7 1372.6,1407.9 1374.6,1408.1 1376.6,1408.2 1378.5,1408.4 1380.5,1408.5 1382.5,1408.7 1384.5,1408.9 1386.5,1409.0 1388.5,1409.2 1390.5,1409.3 1392.5,1409.5 1394.5,1409.6 1396.5,1409.8 1398.5,1409.9 1400.5,1410.1 1402.5,1410.2 1404.5,1410.4 1406.5,1410.5 1408.5,1410.6 1410.5,1410.8 1412.5,1410.9 1414.5,1411.0 1416.5,1411.2 1418.5,1411.3 1420.5,1411.4 1422.5,1411.5 1424.5,1411.7 1426.5,1411.8 1428.5,1411.9 1430.5,1412.0 1432.5,1412.1 1434.5,1412.2 1436.5,1412.4 1438.5,1412.5 1440.5,1412.6 1442.5,1412.7 1444.5,1412.8 1446.5,1412.9 1448.5,1413.0 1450.5,1413.0 1452.5,1413.1 1454.5,1413.2 1456.5,1413.3 1458.5,1413.4 1460.5,1413.5 1462.5,1413.5 1464.5,1413.6 1466.5,1413.7 1468.5,1413.8 1470.5,1413.8 1472.5,1413.9 1474.5,1413.9 1476.5,1414.0 1478.5,1414.0 1480.5,1414.1 1482.5,1414.1 1484.5,1414.2 1486.5,1414.2 1488.5,1414.3 1490.5,1414.3 1492.5,1414.3 1494.5,1414.4 1496.5,1414.4 1498.5,1414.4 1500.5,1414.4 1502.5,1414.4 1504.5,1414.4 1506.5,1414.5 1508.5,1414.5 1510.5,1414.5 1512.5,1414.5 1514.5,1414.4 1516.5,1414.4 1518.5,1414.4 1520.5,1414.4 1522.5,1414.4 1524.5,1414.4 1526.5,1414.3 1528.5,1414.3 1530.5,1414.2 1532.5,1414.2 1534.5,1414.2 1536.5,1414.1 1538.5,1414.1 1540.5,1414.0 1542.5,1413.9 1544.5,1413.9 1546.5,1413.8 1548.5,1413.7 1550.5,1413.6 1552.5,1413.6 1554.5,1413.5 1556.5,1413.4 1558.5,1413.3 1560.5,1413.2 1562.5,1413.1 1564.5,1413.0 1566.5,1412.9 1568.5,1412.7 1570.5,1412.6 1572.5,1412.5 1574.5,1412.4 1576.5,1412.2 1578.5,1412.1 1580.5,1411.9 1582.5,1411.8 1584.5,1411.6 1586.5,1411.5 1588.5,1411.3 1590.5,1411.1 1592.5,1410.9 1594.5,1410.8 1596.5,1410.6 1598.5,1410.4 1600.4,1410.2 1602.4,1410.0 1604.4,1409.8 1606.4,1409.6 1608.4,1409.3 1610.4,1409.1 1612.4,1408.9 1614.4,1408.6 1616.4,1408.4 1618.3,1408.2 1620.3,1407.9 1622.3,1407.6 1624.3,1407.4 1626.3,1407.1 1628.3,1406.8 1630.3,1406.6 1632.2,1406.3 1634.2,1406.0 1636.2,1405.7 1638.2,1405.4 1640.2,1405.1 1642.1,1404.8 1644.1,1404.4 1646.1,1404.1 1648.1,1403.8 1650.0,1403.4 1652.0,1403.1 1654.0,1402.7 1655.9,1402.4 1657.9,1402.0 1659.9,1401.7 1661.8,1401.3 1663.8,1400.9 1665.8,1400.5 1667.7,1400.1 1669.7,1399.7 1671.7,1399.3 1673.6,1398.9 1675.6,1398.5 1677.5,1398.1 1679.5,1397.6 1681.4,1397.2 1683.4,1396.7 1685.3,1396.3 1687.3,1395.8 1689.2,1395.4 1691.2,1394.9 1693.1,1394.4 1695.1,1393.9 1697.0,1393.4 1698.9,1392.9 1700.9,1392.4 1702.8,1391.9 1704.8,1391.4 1706.7,1390.9 1708.6,1390.3 1710.5,1389.8 1712.5,1389.3 1714.4,1388.7 1716.3,1388.2 1718.2,1387.6 1720.2,1387.0 1722.1,1386.4 1724.0,1385.8 1725.9,1385.3 1727.8,1384.7 1729.7,1384.0 1731.6,1383.4 1733.5,1382.8 1735.4,1382.2 1737.3,1381.5 1739.2,1380.9 1741.1,1380.3 1743.0,1379.6 1744.9,1378.9 1746.8,1378.3 1748.7,1377.6 1750.5,1376.9 1752.4,1376.2 1754.3,1375.5 1756.2,1374.8 1758.0,1374.1 1759.9,1373.4 1761.8,1372.6 1763.6,1371.9 1765.5,1371.2 1767.4,1370.5 1769.2,1369.7 1771.1,1369.0 1772.9,1368.2 1774.8,1367.5 1776.7,1366.7 1778.5,1366.0 1780.4,1365.2 1782.2,1364.5 1784.1,1363.7 1785.9,1363.0 1787.8,1362.2 1789.6,1361.5 1791.5,1360.7 1793.4,1360.0 1795.2,1359.2 1797.1,1358.5 1798.9,1357.7 1800.8,1357.0 1802.7,1356.3 1804.5,1355.5 1806.4,1354.8 1808.2,1354.1 1810.1,1353.3 1812.0,1352.6 1813.8,1351.9 1815.7,1351.1 1817.6,1350.4 1819.4,1349.6 1821.3,1348.9 1823.1,1348.1 1824.9,1347.3 1826.8,1346.5 1828.6,1345.7 1830.4,1344.9 1832.3,1344.0 1834.1,1343.2 1835.9,1342.3 1837.7,1341.4 1839.4,1340.5 1841.2,1339.6 1843.0,1338.6 1844.7,1337.7 1846.5,1336.7 1848.2,1335.7 1849.9,1334.7 1851.7,1333.6 1853.4,1332.6 1855.1,1331.5 1856.8,1330.5 1858.4,1329.4 1860.1,1328.3 1861.8,1327.2 1863.5,1326.1 1865.1,1325.0 1866.8,1323.9 1868.5,1322.8 1870.1,1321.6 1871.8,1320.5 1873.4,1319.4 1875.1,1318.2 1876.7,1317.1 1878.4,1315.9 1880.0,1314.8 1881.6,1313.7 1883.3,1312.5 1884.9,1311.4 1886.6,1310.2 1888.2,1309.1 1889.9,1307.9 1891.5,1306.8 1893.2,1305.7 1894.8,1304.5 1896.5,1303.4 1898.1,1302.3 1899.8,1301.2 1901.4,1300.0 1903.1,1298.9 1904.7,1297.7 1906.3,1296.6 1908.0,1295.4 1909.6,1294.3 1911.2,1293.1 1912.8,1291.9 1914.5,1290.7 1916.1,1289.5 1917.6,1288.3 1919.2,1287.1 1920.8,1285.8 1922.3,1284.6 1923.9,1283.3 1925.4,1282.0 1926.9,1280.7 1928.4,1279.3 1929.9,1278.0 1931.3,1276.6 1932.8,1275.2 1934.2,1273.8 1935.7,1272.4 1937.1,1271.0 1938.5,1269.6 1939.9,1268.1 1941.2,1266.7 1942.6,1265.2 1944.0,1263.8 1945.3,1262.3 1946.7,1260.8 1948.0,1259.3 1949.3,1257.8 1950.7,1256.3 1952.0,1254.8 1953.3,1253.3 1954.6,1251.8 1955.9,1250.3 1957.2,1248.8 1958.5,1247.2 1959.8,1245.7 1961.1,1244.2 1962.4,1242.6 1963.7,1241.1 1965.0,1239.6 1966.3,1238.1 1967.6,1236.5 1968.9,1235.0 1970.2,1233.5 1971.4,1232.0 1972.7,1230.4 1974.0,1228.9 1975.3,1227.4 1976.6,1225.8 1977.9,1224.3 1979.1,1222.7 1980.4,1221.2 1981.6,1219.6 1982.9,1218.0 1984.1,1216.4 1985.3,1214.9 1986.5,1213.3 1987.7,1211.7 1988.9,1210.0 1990.1,1208.4 1991.2,1206.8 1992.4,1205.1 1993.5,1203.5 1994.6,1201.8 1995.7,1200.1 1996.7,1198.4 1997.8,1196.7 1998.9,1195.0 1999.9,1193.3 2001.0,1191.6 2002.0,1189.9 2003.0,1188.2 2004.1,1186.5 2005.1,1184.8 2006.1,1183.0 2007.1,1181.3 2008.2,1179.6 2009.2,1177.9 2010.3,1176.2 2011.3,1174.5 2012.4,1172.8 2013.5,1171.1 2014.5,1169.4 2015.6,1167.7 2016.7,1166.1 2017.8,1164.4 2018.9,1162.7 2020.0,1161.0 2021.1,1159.4 2022.2,1157.7 2023.3,1156.0 2024.3,1154.3 2025.4,1152.6 2026.5,1150.9 2027.5,1149.2 2028.5,1147.5 2029.6,1145.8 2030.6,1144.0 2031.5,1142.3 2032.5,1140.5 2033.4,1138.8 2034.4,1137.0 2035.3,1135.2 2036.2,1133.4 2037.0,1131.6 2037.9,1129.8 2038.8,1128.0 2039.6,1126.2 2040.4,1124.3 2041.2,1122.5 2042.0,1120.7 2042.8,1118.8 2043.6,1117.0 2044.3,1115.1 2045.1,1113.3 2045.8,1111.4 2046.6,1109.5 2047.3,1107.7 2048.0,1105.8 2048.7,1103.9 2049.4,1102.1 2050.1,1100.2 2050.8,1098.3 2051.4,1096.4 2052.1,1094.5 2052.8,1092.6 2053.4,1090.8 2054.1,1088.9 2054.8,1087.0 2055.4,1085.1 2056.1,1083.2 2056.7,1081.3 2057.4,1079.4 2058.0,1077.5 2058.7,1075.6 2059.3,1073.7 2060.0,1071.8 2060.6,1069.9 2061.3,1068.0 2061.9,1066.1 2062.6,1064.2 2063.2,1062.4 2063.9,1060.5 2064.5,1058.6 2065.2,1056.7 2065.8,1054.8 2066.5,1052.9 2067.1,1051.0 2067.8,1049.1 2068.4,1047.2 2069.1,1045.3 2069.7,1043.4 2070.4,1041.5 2071.0,1039.6 2071.6,1037.7 2072.3,1035.8 2072.9,1033.9 2073.5,1032.0 2074.2,1030.1 2074.8,1028.2 2075.4,1026.3 2076.0,1024.4 2076.6,1022.5 2077.2,1020.6 2077.8,1018.7 2078.4,1016.8 2079.0,1014.9 2079.6,1013.0 2080.2,1011.0 2080.8,1009.1 2081.4,1007.2 2081.9,1005.3 2082.5,1003.4 2083.1,1001.5 2083.6,999.5 2084.2,997.6 2084.7,995.7 2085.3,993.8 2085.8,991.8 2086.4,989.9 2086.9,988.0 2087.5,986.1 2088.0,984.1 2088.5,982.2 2089.0,980.3 2089.6,978.3 2090.1,976.4 2090.6,974.5 2091.1,972.5 2091.6,970.6 2092.1,968.7 2092.6,966.7 2093.1,964.8 2093.6,962.8 2094.1,960.9 2094.6,959.0 2095.1,957.0 2095.5,955.1 2096.0,953.1 2096.5,951.2 2097.0,949.2 2097.4,947.3 2097.9,945.3 2098.4,943.4 2098.8,941.4 2099.3,939.5 2099.7,937.5 2100.2,935.6 2100.6,933.6 2101.1,931.7 2101.5,929.7 2102.0,927.8 2102.4,925.8 2102.8,923.9 2103.3,921.9 2103.7,920.0 2104.1,918.0 2104.5,916.1 2105.0,914.1 2105.4,912.1 2105.8,910.2 2106.2,908.2 2106.6,906.3 2107.0,904.3 2107.4,902.3 2107.8,900.4 2108.2,898.4 2108.6,896.5 2109.0,894.5 2109.4,892.5 2109.8,890.6 2110.2,888.6 2110.6,886.6 2111.0,884.7 2111.4,882.7 2111.7,880.7 2112.1,878.8 2112.5,876.8 2112.9,874.8 2113.2,872.9 2113.6,870.9 2114.0,868.9 2114.3,867.0 2114.7,865.0 2115.1,863.0 2115.4,861.1 2115.8,859.1 2116.2,857.1 2116.5,855.2 2116.9,853.2 2117.2,851.2 2117.6,849.2 2117.9,847.3 2118.3,845.3 2118.6,843.3 2119.0,841.4 2119.3,839.4 2119.7,837.4 2120.0,835.4 2120.3,833.5 2120.7,831.5 2121.0,829.5 2121.3,827.6 2121.7,825.6 2122.0,823.6 2122.3,821.6 2122.7,819.7 2123.0,817.7 2123.3,815.7 2123.6,813.7 2124.0,811.8 2124.3,809.8 2124.6,807.8 2124.9,805.8 2125.2,803.8 2125.6,801.9 2125.9,799.9 2126.2,797.9 2126.5,795.9 2126.8,794.0 2127.1,792.0 2127.4,790.0 2127.7,788.0 2128.0,786.0 2128.3,784.1 2128.6,782.1 2128.9,780.1 2129.2,778.1 2129.5,776.2 2129.8,774.2 2130.1,772.2 2130.4,770.2 2130.7,768.2 2131.0,766.2 2131.3,764.3 2131.6,762.3 2131.9,760.3 2132.1,758.3 2132.4,756.3 2132.7,754.4 2133.0,752.4 2133.3,750.4 2133.5,748.4 2133.8,746.4 2134.1,744.4 2134.4,742.5 2134.6,740.5 2134.9,738.5 2135.2,736.5 2135.5,734.5 2135.7,732.5 2136.0,730.6 2136.3,728.6 2136.5,726.6 2136.8,724.6 2137.1,722.6 2137.3,720.6 2137.6,718.7 2137.8,716.7 2138.1,714.7 2138.3,712.7 2138.6,710.7 2138.9,708.7 2139.1,706.7 2139.4,704.8 2139.6,702.8 2139.9,700.8 2140.1,698.8 2140.4,696.8 2140.6,694.8 2140.9,692.8 2141.1,690.9 2141.3,688.9 2141.6,686.9 2141.8,684.9 2142.1,682.9 2142.3,680.9 2142.5,678.9 2142.8,676.9 2143.0,675.0 2143.3,673.0 2143.5,671.0 2143.7,669.0 2144.0,667.0 2144.2,665.0 2144.4,663.0 2144.6,661.0 2144.9,659.0 2145.1,657.1 2145.3,655.1 2145.6,653.1 2145.8,651.1 2146.0,649.1 2146.2,647.1 2146.5,645.1 2146.7,643.1 2146.9,641.1 2147.1,639.2 2147.3,637.2 2147.5,635.2 2147.8,633.2 2148.0,631.2 2148.2,629.2 2148.4,627.2 2148.6,625.2 2148.8,623.2 2149.0,621.2 2149.3,619.2 2149.5,617.3 2149.7,615.3 2149.9,613.3 2150.1,611.3 2150.3,609.3 2150.5,607.3 2150.7,605.3 2150.9,603.3 2151.1,601.3 2151.3,599.3 2151.5,597.3 2151.7,595.4 2151.9,593.4 2152.1,591.4 2152.3,589.4 2152.5,587.4 2152.7,585.4 2152.9,583.4 2153.1,581.4 2153.3,579.4 2153.5,577.4 2153.7,575.4 2153.9,573.4 2154.1,571.4 2154.3,569.5 2154.5,567.5 2154.7,565.5 2154.9,563.5 2155.0,561.5 2155.2,559.5 2155.4,557.5 2155.6,555.5 2155.8,553.5 2156.0,551.5 2156.2,549.5 2156.4,547.5 2156.5,545.5 2156.7,543.5 2156.9,541.5 2157.1,539.6 2157.3,537.6 2157.5,535.6 2157.6,533.6 2157.8,531.6 2158.0,529.6 2158.2,527.6 2158.4,525.6 2158.5,523.6 2158.7,521.6 2158.9,519.6 2159.1,517.6 2159.3,515.6 2159.4,513.6 2159.6,511.6 2159.8,509.6 2160.0,507.7 2160.1,505.7 2160.3,503.7 2160.5,501.7 2160.7,499.7 2160.8,497.7 2161.0,495.7 2161.2,493.7 2161.3,491.7 2161.5,489.7 2161.7,487.7 2161.9,485.7 2162.0,483.7 2162.2,481.7 2162.4,479.7 2162.5,477.7 2162.7,475.7 2162.9,473.7 2163.0,471.7 2163.2,469.8 2163.4,467.8 2163.6,465.8 2163.7,463.8 2163.9,461.8 2164.1,459.8 2164.2,457.8 2164.4,455.8 2164.6,453.8 2164.7,451.8 2164.9,449.8 2165.0,447.8 2165.2,445.8 2165.4,443.8 2165.5,441.8 2165.7,439.8 2165.9,437.8 2166.0,435.8 2166.2,433.8 2166.4,431.8 2166.5,429.9 2166.7,427.9 2166.8,425.9 2167.0,423.9 2167.2,421.9 2167.3,419.9 2167.5,417.9 2167.7,415.9 2167.8,413.9 2168.0,411.9 2168.1,409.9 2168.3,407.9 2168.4,405.9 2168.6,403.9 2168.8,401.9 2168.9,399.9 2169.1,397.9 2169.2,395.9 2169.4,393.9 2169.5,391.9 2169.7,389.9 2169.9,387.9 2170.0,385.9 2170.2,384.0 2170.3,382.0 2170.5,380.0 2170.6,378.0 2170.8,376.0 2170.9,374.0 2171.1,372.0 2171.2,370.0 2171.4,368.0 2171.5,366.0 2171.7,364.0 2171.8,362.0 2172.0,360.0 2172.1,358.0 2172.3,356.0 2172.4,354.0 2172.6,352.0 2172.7,350.0 2172.9,348.0 2173.0,346.0 2173.2,344.0 2173.3,342.0 2173.5,340.0 2173.6,338.0 2173.7,336.0 2173.9,334.0 2174.0,332.0 2174.2,330.1 2174.3,328.1 2174.5,326.1 2174.6,324.1 2174.7,322.1 2174.9,320.1 2175.0,318.1 2175.2,316.1 2175.3,314.1 2175.4,312.1 2175.6,310.1 2175.7,308.1 2175.9,306.1 2176.0,304.1 2176.1,302.1 2176.3,300.1 2176.4,298.1 2176.5,296.1 2176.7,294.1 2176.8,292.1 2176.9,290.1 2177.1,288.1 2177.2,286.1 2177.3,284.1 2177.5,282.1 2177.6,280.1 2177.7,278.1 2177.9,276.1 2178.0,274.1 2178.1,272.1 2178.2,270.1 2178.4,268.1 2178.5,266.1 2178.6,264.1 2178.8,262.1 2178.9,260.1 2179.0,258.1 2179.1,256.1 2179.3,254.1 2179.4,252.1 2179.5,250.2 2179.6,248.2 2179.7,246.2 2179.9,244.2 2180.0,242.2 2180.1,240.2 2180.2,238.2 2180.3,236.2 2180.5,234.2 2180.6,232.2 2180.7,230.2 2180.8,228.2 2180.9,226.2 2181.0,224.2 2181.2,222.2 2181.3,220.2 2181.4,218.2 2181.5,216.2 2181.6,214.2 2181.7,212.2 2181.8,210.2 2181.9,208.2 2182.1,206.2 2182.2,204.2 2182.3,202.2 2182.4,200.2 2182.5,198.2 2182.6,196.2 2182.7,194.2 2182.8,192.2 2182.9,190.2 2183.0,188.2 2183.1,186.2 2183.2,184.2 2183.3,182.2 2183.4,180.2 2183.5,178.2 2183.6,176.2 2183.7,174.2 2183.8,172.2 2183.9,170.2 2184.0,168.2 2184.1,166.2 2184.2,164.2 2184.3,162.2 2184.4,160.2 2184.5,158.2 2184.6,156.2 2184.7,154.2 2184.8,152.2 2184.9,150.2 2185.0,148.2 2185.1,146.2 2185.1,144.2 2185.2,142.2 2185.3,140.2 2185.4,138.2 2185.5,136.2" fill="none" stroke="#EF4040" stroke-width="12" stroke-dasharray="48.9 55.1 41.1 59.6 43.1 57.8 43.1 66.1 49.2 60.3 51.5 4.6 49.4 48.5 43.0 55.3 42.0 58.5 52.2 56.3 48.4 37.5 44.0 56.4 39.4 48.9 47.4 51.8 40.7 61.8 41.6 60.8 42.7 37.6 47.2 67.1 46.4 66.0 49.0 65.0 48.4 65.6 48.5 67.8 47.4 66.6 47.8 66.6 47.7 66.2 47.8 67.1 32.2 50.0" stroke-linejoin="round" shape-rendering="crispEdges"/>
<path d="M540.5,1378.0 541.3,1376.2 542.1,1374.3 542.9,1372.5 543.7,1370.7 544.5,1368.8 545.3,1367.0 546.0,1365.1 546.8,1363.3 547.6,1361.4 548.3,1359.6 549.1,1357.7 549.8,1355.9 550.6,1354.0 551.3,1352.1 552.1,1350.3 552.8,1348.4 553.6,1346.6 554.3,1344.7 555.0,1342.8 555.8,1341.0 556.5,1339.1 557.2,1337.3 558.0,1335.4 558.7,1333.5 559.5,1331.7 560.2,1329.8 561.0,1328.0 561.7,1326.1 562.5,1324.3 563.2,1322.4 564.0,1320.5 564.7,1318.7 565.5,1316.9 566.3,1315.0 567.1,1313.2 567.9,1311.3 568.7,1309.5 569.5,1307.7 570.3,1305.8 571.1,1304.0 571.9,1302.2 572.7,1300.3 573.6,1298.5 574.4,1296.7 575.3,1294.9 576.2,1293.1 577.0,1291.3 577.9,1289.5 578.8,1287.7 579.8,1285.9 580.7,1284.2 581.6,1282.4 582.6,1280.6 583.5,1278.9 584.5,1277.1 585.5,1275.4 586.5,1273.7 587.5,1271.9 588.5,1270.2 589.6,1268.5 590.6,1266.8 591.7,1265.1 592.8,1263.4 593.9,1261.8 595.0,1260.1 596.1,1258.4 597.3,1256.8 598.4,1255.2 599.6,1253.5 600.8,1251.9 602.0,1250.3 603.2,1248.8 604.5,1247.2 605.7,1245.6 607.0,1244.1 608.3,1242.6 609.7,1241.1 611.1,1239.6 612.4,1238.2 613.9,1236.8 615.3,1235.4 616.8,1234.1 618.3,1232.8 619.9,1231.5 621.5,1230.3 623.1,1229.2 624.8,1228.1 626.5,1227.0 628.3,1226.1 630.1,1225.2 631.9,1224.3 633.7,1223.6 635.6,1223.0 637.6,1222.4 639.5,1221.9 641.5,1221.5 643.4,1221.2 645.4,1221.0 647.4,1220.9 649.4,1220.9 651.4,1221.0 653.4,1221.1 655.4,1221.4 657.4,1221.7 659.4,1222.1 661.3,1222.5 663.2,1223.0 665.2,1223.6 667.1,1224.2 669.0,1224.9 670.8,1225.6 672.7,1226.3 674.5,1227.1 676.4,1228.0 678.2,1228.8 680.0,1229.7 681.8,1230.6 683.5,1231.5 685.3,1232.5 687.0,1233.4 688.8,1234.4 690.5,1235.4 692.2,1236.4 694.0,1237.5 695.7,1238.5 697.4,1239.6 699.1,1240.6 700.8,1241.7 702.5,1242.7 704.2,1243.8 705.8,1244.9 707.5,1246.0 709.2,1247.0 710.9,1248.1 712.6,1249.2 714.3,1250.3 716.0,1251.3 717.7,1252.4 719.4,1253.4 721.1,1254.4 722.9,1255.4 724.6,1256.4 726.4,1257.4 728.1,1258.3 729.9,1259.3 731.7,1260.2 733.5,1261.1 735.3,1261.9 737.1,1262.7 739.0,1263.5 740.8,1264.2 742.7,1265.0 744.6,1265.6 746.5,1266.3 748.4,1266.9 750.3,1267.5 752.2,1268.0 754.1,1268.6 756.1,1269.1 758.0,1269.5 760.0,1270.0 761.9,1270.4 763.9,1270.8 765.9,1271.2 767.8,1271.6 769.8,1271.9 771.8,1272.3 773.8,1272.6 775.7,1272.9 777.7,1273.2 779.7,1273.4 781.7,1273.7 783.7,1274.0 785.7,1274.2 787.6,1274.5 789.6,1274.7 791.6,1274.9 793.6,1275.1 795.6,1275.4 797.6,1275.6 799.6,1275.8 801.6,1275.9 803.6,1276.1 805.6,1276.3 807.6,1276.5 809.6,1276.6 811.6,1276.8 813.5,1276.9 815.5,1277.1 817.5,1277.2 819.5,1277.4 821.5,1277.5 823.5,1277.6 825.5,1277.7 827.5,1277.8 829.5,1277.9 831.5,1278.0 833.5,1278.1 835.5,1278.2 837.5,1278.3 839.5,1278.4 841.5,1278.5 843.5,1278.5 845.5,1278.6 847.5,1278.7 849.5,1278.7 851.5,1278.8 853.5,1278.8 855.5,1278.9 857.5,1278.9 859.5,1278.9 861.5,1279.0 863.6,1279.0 865.6,1279.0 867.6,1279.1 869.6,1279.1 871.6,1279.1 873.6,1279.1 875.6,1279.1 877.6,1279.1 879.6,1279.1 881.6,1279.1 883.6,1279.1 885.6,1279.1 887.6,1279.1 889.6,1279.1 891.6,1279.1 893.6,1279.1 895.6,1279.1 897.6,1279.1 899.6,1279.1 901.6,1279.1 903.6,1279.1 905.6,1279.0 907.6,1279.0 909.6,1279.0 911.6,1279.0 913.6,1279.0 915.6,1278.9 917.6,1278.9 919.6,1278.9 921.6,1278.9 923.6,1278.8 925.6,1278.8 927.6,1278.8 929.6,1278.8 931.6,1278.8 933.6,1278.7 935.6,1278.7 937.6,1278.7 939.6,1278.7 941.6,1278.7 943.6,1278.6 945.6,1278.6 947.6,1278.6 949.6,1278.6 951.6,1278.6 953.6,1278.6 955.6,1278.5 957.6,1278.5 959.6,1278.5 961.6,1278.5 963.7,1278.5 965.7,1278.5 967.7,1278.5 969.7,1278.5 971.7,1278.5 973.7,1278.5 975.7,1278.5 977.7,1278.5 979.7,1278.5 981.7,1278.5 983.7,1278.5 985.7,1278.5 987.7,1278.5 989.7,1278.5 991.7,1278.5 993.7,1278.5 995.7,1278.5 997.7,1278.5 999.7,1278.5 1001.7,1278.5 1003.7,1278.5 1005.7,1278.5 1007.7,1278.5 1009.7,1278.5 1011.7,1278.6 1013.7,1278.6 1015.7,1278.6 1017.7,1278.6 1019.7,1278.6 1021.7,1278.6 1023.7,1278.7 1025.7,1278.7 1027.7,1278.7 1029.7,1278.7 1031.7,1278.7 1033.7,1278.8 1035.7,1278.8 1037.7,1278.8 1039.7,1278.8 1041.7,1278.9 1043.7,1278.9 1045.7,1278.9 1047.7,1278.9 1049.7,1279.0 1051.7,1279.0 1053.7,1279.0 1055.7,1279.1 1057.7,1279.1 1059.7,1279.1 1061.8,1279.2 1063.8,1279.2 1065.8,1279.2 1067.8,1279.3 1069.8,1279.3 1071.8,1279.4 1073.8,1279.4 1075.8,1279.4 1077.8,1279.5 1079.8,1279.5 1081.8,1279.6 1083.8,1279.6 1085.8,1279.6 1087.8,1279.7 1089.8,1279.7 1091.8,1279.8 1093.8,1279.8 1095.8,1279.9 1097.8,1279.9 1099.8,1280.0 1101.8,1280.0 1103.8,1280.1 1105.8,1280.1 1107.8,1280.2 1109.8,1280.3 1111.8,1280.3 1113.8,1280.4 1115.8,1280.4 1117.8,1280.5 1119.8,1280.5 1121.8,1280.6 1123.8,1280.7 1125.8,1280.7 1127.8,1280.8 1129.8,1280.9 1131.8,1280.9 1133.8,1281.0 1135.8,1281.1 1137.8,1281.1 1139.8,1281.2 1141.8,1281.3 1143.8,1281.3 1145.8,1281.4 1147.8,1281.5 1149.8,1281.5 1151.8,1281.6 1153.8,1281.7 1155.8,1281.8 1157.8,1281.8 1159.8,1281.9 1161.8,1282.0 1163.8,1282.1 1165.8,1282.2 1167.8,1282.2 1169.8,1282.3 1171.8,1282.4 1173.8,1282.5 1175.8,1282.6 1177.8,1282.6 1179.8,1282.7 1181.8,1282.8 1183.8,1282.9 1185.8,1283.0 1187.8,1283.1 1189.8,1283.2 1191.8,1283.3 1193.8,1283.3 1195.8,1283.4 1197.8,1283.5 1199.8,1283.6 1201.8,1283.7 1203.8,1283.8 1205.8,1283.9 1207.8,1284.0 1209.8,1284.1 1211.8,1284.2 1213.8,1284.3 1215.8,1284.4 1217.8,1284.5 1219.8,1284.6 1221.8,1284.7 1223.8,1284.8 1225.8,1284.9 1227.8,1285.0 1229.8,1285.1 1231.8,1285.2 1233.8,1285.3 1235.8,1285.4 1237.8,1285.5 1239.8,1285.6 1241.8,1285.7 1243.8,1285.9 1245.8,1286.0 1247.8,1286.1 1249.8,1286.2 1251.8,1286.3 1253.8,1286.4 1255.8,1286.5 1257.8,1286.6 1259.8,1286.8 1261.8,1286.9 1263.8,1287.0 1265.8,1287.1 1267.8,1287.2 1269.8,1287.4 1271.8,1287.5 1273.8,1287.6 1275.8,1287.7 1277.8,1287.8 1279.8,1288.0 1281.8,1288.1 1283.8,1288.2 1285.8,1288.3 1287.8,1288.5 1289.8,1288.6 1291.8,1288.7 1293.8,1288.8 1295.8,1289.0 1297.8,1289.1 1299.8,1289.2 1301.8,1289.4 1303.8,1289.5 1305.8,1289.6 1307.8,1289.8 1309.8,1289.9 1311.8,1290.0 1313.8,1290.1 1315.7,1290.3 1317.7,1290.4 1319.7,1290.5 1321.7,1290.7 1323.7,1290.8 1325.7,1290.9 1327.7,1291.1 1329.7,1291.2 1331.7,1291.3 1333.7,1291.4 1335.7,1291.6 1337.7,1291.7 1339.7,1291.8 1341.7,1292.0 1343.7,1292.1 1345.7,1292.2 1347.7,1292.3 1349.7,1292.5 1351.7,1292.6 1353.7,1292.7 1355.7,1292.8 1357.7,1293.0 1359.7,1293.1 1361.7,1293.2 1363.7,1293.3 1365.7,1293.4 1367.7,1293.5 1369.7,1293.7 1371.7,1293.8 1373.7,1293.9 1375.7,1294.0 1377.7,1294.1 1379.7,1294.2 1381.7,1294.3 1383.7,1294.4 1385.7,1294.5 1387.7,1294.6 1389.7,1294.7 1391.7,1294.8 1393.7,1294.9 1395.7,1295.0 1397.7,1295.1 1399.7,1295.2 1401.7,1295.3 1403.7,1295.4 1405.7,1295.5 1407.7,1295.5 1409.7,1295.6 1411.7,1295.7 1413.7,1295.8 1415.7,1295.8 1417.7,1295.9 1419.7,1296.0 1421.7,1296.0 1423.7,1296.1 1425.7,1296.2 1427.7,1296.2 1429.7,1296.3 1431.7,1296.3 1433.7,1296.4 1435.7,1296.4 1437.7,1296.5 1439.7,1296.5 1441.7,1296.5 1443.7,1296.6 1445.7,1296.6 1447.7,1296.6 1449.7,1296.7 1451.7,1296.7 1453.7,1296.7 1455.7,1296.7 1457.7,1296.7 1459.7,1296.7 1461.7,1296.7 1463.7,1296.7 1465.7,1296.7 1467.7,1296.7 1469.7,1296.7 1471.7,1296.7 1473.7,1296.7 1475.7,1296.7 1477.7,1296.6 1479.8,1296.6 1481.8,1296.6 1483.8,1296.5 1485.8,1296.5 1487.8,1296.5 1489.8,1296.4 1491.8,1296.4 1493.8,1296.3 1495.8,1296.2 1497.8,1296.2 1499.8,1296.1 1501.8,1296.0 1503.8,1295.9 1505.8,1295.9 1507.8,1295.8 1509.8,1295.7 1511.8,1295.6 1513.8,1295.5 1515.8,1295.4 1517.8,1295.2 1519.8,1295.1 1521.8,1295.0 1523.8,1294.9 1525.8,1294.7 1527.8,1294.6 1529.7,1294.4 1531.7,1294.3 1533.7,1294.1 1535.7,1294.0 1537.7,1293.8 1539.7,1293.6 1541.7,1293.5 1543.7,1293.3 1545.7,1293.1 1547.7,1292.9 1549.7,1292.7 1551.7,1292.5 1553.7,1292.3 1555.7,1292.1 1557.7,1291.8 1559.6,1291.6 1561.6,1291.4 1563.6,1291.1 1565.6,1290.9 1567.6,1290.6 1569.6,1290.4 1571.6,1290.1 1573.5,1289.8 1575.5,1289.5 1577.5,1289.2 1579.5,1288.9 1581.5,1288.6 1583.4,1288.3 1585.4,1288.0 1587.4,1287.7 1589.4,1287.4 1591.3,1287.0 1593.3,1286.7 1595.3,1286.4 1597.3,1286.0 1599.2,1285.6 1601.2,1285.3 1603.2,1284.9 1605.1,1284.5 1607.1,1284.1 1609.1,1283.7 1611.0,1283.3 1613.0,1282.9 1614.9,1282.5 1616.9,1282.1 1618.8,1281.6 1620.8,1281.2 1622.8,1280.7 1624.7,1280.3 1626.6,1279.8 1628.6,1279.4 1630.5,1278.9 1632.5,1278.4 1634.4,1277.9 1636.4,1277.4 1638.3,1276.9 1640.2,1276.4 1642.2,1275.8 1644.1,1275.3 1646.0,1274.8 1647.9,1274.2 1649.9,1273.7 1651.8,1273.1 1653.7,1272.6 1655.6,1272.0 1657.5,1271.4 1659.5,1270.8 1661.4,1270.2 1663.3,1269.6 1665.2,1269.0 1667.1,1268.4 1669.0,1267.7 1670.9,1267.1 1672.8,1266.5 1674.7,1265.8 1676.6,1265.2 1678.5,1264.5 1680.3,1263.8 1682.2,1263.1 1684.1,1262.5 1686.0,1261.8 1687.9,1261.1 1689.7,1260.3 1691.6,1259.6 1693.5,1258.9 1695.3,1258.2 1697.2,1257.4 1699.0,1256.7 1700.9,1255.9 1702.8,1255.2 1704.6,1254.4 1706.4,1253.6 1708.3,1252.8 1710.1,1252.0 1712.0,1251.2 1713.8,1250.4 1715.6,1249.6 1717.4,1248.8 1719.3,1247.9 1721.1,1247.1 1722.9,1246.2 1724.7,1245.4 1726.5,1244.5 1728.3,1243.6 1730.1,1242.8 1731.9,1241.9 1733.7,1241.0 1735.5,1240.1 1737.3,1239.2 1739.0,1238.2 1740.8,1237.3 1742.6,1236.4 1744.3,1235.4 1746.1,1234.5 1747.9,1233.5 1749.6,1232.6 1751.4,1231.6 1753.1,1230.6 1754.8,1229.6 1756.6,1228.6 1758.3,1227.6 1760.0,1226.6 1761.8,1225.6 1763.5,1224.5 1765.2,1223.5 1766.9,1222.5 1768.6,1221.4 1770.3,1220.3 1772.0,1219.3 1773.7,1218.2 1775.4,1217.1 1777.0,1216.0 1778.7,1214.9 1780.4,1213.8 1782.0,1212.7 1783.7,1211.6 1785.4,1210.4 1787.0,1209.3 1788.6,1208.2 1790.3,1207.0 1791.9,1205.8 1793.5,1204.7 1795.1,1203.5 1796.8,1202.3 1798.4,1201.1 1800.0,1199.9 1801.6,1198.7 1803.2,1197.5 1804.7,1196.3 1806.3,1195.0 1807.9,1193.8 1809.5,1192.6 1811.0,1191.3 1812.6,1190.0 1814.1,1188.8 1815.7,1187.5 1817.2,1186.2 1818.8,1184.9 1820.3,1183.7 1821.8,1182.4 1823.3,1181.1 1824.8,1179.7 1826.4,1178.4 1827.9,1177.1 1829.4,1175.8 1830.8,1174.4 1832.3,1173.1 1833.8,1171.7 1835.3,1170.4 1836.7,1169.0 1838.2,1167.6 1839.7,1166.3 1841.1,1164.9 1842.6,1163.5 1844.0,1162.1 1845.4,1160.7 1846.9,1159.3 1848.3,1157.9 1849.7,1156.5 1851.1,1155.1 1852.5,1153.6 1853.9,1152.2 1855.3,1150.8 1856.7,1149.3 1858.1,1147.9 1859.4,1146.4 1860.8,1145.0 1862.2,1143.5 1863.5,1142.0 1864.9,1140.6 1866.2,1139.1 1867.6,1137.6 1868.9,1136.1 1870.3,1134.6 1871.6,1133.1 1872.9,1131.6 1874.2,1130.1 1875.5,1128.6 1876.8,1127.0 1878.1,1125.5 1879.4,1124.0 1880.7,1122.5 1882.0,1120.9 1883.2,1119.4 1884.5,1117.8 1885.8,1116.3 1887.0,1114.7 1888.3,1113.1 1889.5,1111.6 1890.8,1110.0 1892.0,1108.4 1893.2,1106.8 1894.4,1105.2 1895.7,1103.7 1896.9,1102.1 1898.1,1100.5 1899.3,1098.9 1900.5,1097.2 1901.6,1095.6 1902.8,1094.0 1904.0,1092.4 1905.2,1090.8 1906.3,1089.1 1907.5,1087.5 1908.6,1085.9 1909.8,1084.2 1910.9,1082.6 1912.1,1080.9 1913.2,1079.3 1914.3,1077.6 1915.4,1076.0 1916.5,1074.3 1917.6,1072.6 1918.7,1071.0 1919.8,1069.3 1920.9,1067.6 1922.0,1065.9 1923.1,1064.2 1924.2,1062.5 1925.2,1060.8 1926.3,1059.1 1927.3,1057.4 1928.4,1055.7 1929.4,1054.0 1930.5,1052.3 1931.5,1050.6 1932.5,1048.9 1933.6,1047.2 1934.6,1045.4 1935.6,1043.7 1936.6,1042.0 1937.6,1040.3 1938.6,1038.5 1939.6,1036.8 1940.6,1035.0 1941.6,1033.3 1942.5,1031.5 1943.5,1029.8 1944.5,1028.0 1945.4,1026.3 1946.4,1024.5 1947.3,1022.7 1948.3,1021.0 1949.2,1019.2 1950.1,1017.4 1951.1,1015.7 1952.0,1013.9 1952.9,1012.1 1953.8,1010.3 1954.7,1008.5 1955.6,1006.8 1956.5,1005.0 1957.4,1003.2 1958.3,1001.4 1959.2,999.6 1960.1,997.8 1960.9,996.0 1961.8,994.2 1962.7,992.4 1963.5,990.6 1964.4,988.8 1965.2,986.9 1966.1,985.1 1966.9,983.3 1967.8,981.5 1968.6,979.7 1969.4,977.8 1970.2,976.0 1971.0,974.2 1971.9,972.4 1972.7,970.5 1973.5,968.7 1974.3,966.9 1975.1,965.0 1975.9,963.2 1976.6,961.3 1977.4,959.5 1978.2,957.7 1979.0,955.8 1979.7,954.0 1980.5,952.1 1981.3,950.3 1982.0,948.4 1982.8,946.5 1983.5,944.7 1984.3,942.8 1985.0,941.0 1985.7,939.1 1986.5,937.2 1987.2,935.4 1987.9,933.5 1988.6,931.6 1989.3,929.8 1990.1,927.9 1990.8,926.0 1991.5,924.1 1992.2,922.3 1992.9,920.4 1993.5,918.5 1994.2,916.6 1994.9,914.8 1995.6,912.9 1996.3,911.0 1996.9,909.1 1997.6,907.2 1998.3,905.3 1998.9,903.4 1999.6,901.5 2000.3,899.7 2000.9,897.8 2001.6,895.9 2002.2,894.0 2002.8,892.1 2003.5,890.2 2004.1,888.3 2004.7,886.4 2005.4,884.5 2006.0,882.6 2006.6,880.7 2007.2,878.8 2007.9,876.9 2008.5,875.0 2009.1,873.0 2009.7,871.1 2010.3,869.2 2010.9,867.3 2011.5,865.4 2012.1,863.5 2012.7,861.6 2013.2,859.7 2013.8,857.8 2014.4,855.8 2015.0,853.9 2015.6,852.0 2016.1,850.1 2016.7,848.2 2017.3,846.2 2017.8,844.3 2018.4,842.4 2019.0,840.5 2019.5,838.6 2020.1,836.6 2020.6,834.7 2021.2,832.8 2021.7,830.9 2022.3,828.9 2022.8,827.0 2023.3,825.1 2023.9,823.1 2024.4,821.2 2024.9,819.3 2025.5,817.3 2026.0,815.4 2026.5,813.5 2027.0,811.6 2027.6,809.6 2028.1,807.7 2028.6,805.7 2029.1,803.8 2029.6,801.9 2030.1,799.9 2030.6,798.0 2031.1,796.1 2031.6,794.1 2032.1,792.2 2032.6,790.3 2033.1,788.3 2033.6,786.4 2034.1,784.4 2034.6,782.5 2035.1,780.5 2035.6,778.6 2036.0,776.7 2036.5,774.7 2037.0,772.8 2037.5,770.8 2038.0,768.9 2038.4,766.9 2038.9,765.0 2039.4,763.0 2039.8,761.1 2040.3,759.2 2040.8,757.2 2041.2,755.3 2041.7,753.3 2042.1,751.4 2042.6,749.4 2043.0,747.5 2043.5,745.5 2043.9,743.6 2044.4,741.6 2044.8,739.6 2045.3,737.7 2045.7,735.7 2046.2,733.8 2046.6,731.8 2047.0,729.9 2047.5,727.9 2047.9,726.0 2048.3,724.0 2048.7,722.1 2049.2,720.1 2049.6,718.1 2050.0,716.2 2050.4,714.2 2050.9,712.3 2051.3,710.3 2051.7,708.4 2052.1,706.4 2052.5,704.4 2052.9,702.5 2053.3,700.5 2053.7,698.6 2054.1,696.6 2054.5,694.6 2054.9,692.7 2055.3,690.7 2055.7,688.7 2056.1,686.8 2056.5,684.8 2056.9,682.9 2057.3,680.9 2057.7,678.9 2058.1,677.0 2058.4,675.0 2058.8,673.0 2059.2,671.1 2059.6,669.1 2060.0,667.1 2060.3,665.2 2060.7,663.2 2061.1,661.2 2061.5,659.3 2061.8,657.3 2062.2,655.3 2062.6,653.4 2062.9,651.4 2063.3,649.4 2063.6,647.5 2064.0,645.5 2064.4,643.5 2064.7,641.5 2065.1,639.6 2065.4,637.6 2065.8,635.6 2066.1,633.7 2066.5,631.7 2066.8,629.7 2067.2,627.7 2067.5,625.8 2067.8,623.8 2068.2,621.8 2068.5,619.9 2068.8,617.9 2069.2,615.9 2069.5,613.9 2069.8,612.0 2070.2,610.0 2070.5,608.0 2070.8,606.0 2071.2,604.1 2071.5,602.1 2071.8,600.1 2072.1,598.1 2072.4,596.2 2072.8,594.2 2073.1,592.2 2073.4,590.2 2073.7,588.2 2074.0,586.3 2074.3,584.3 2074.6,582.3 2075.0,580.3 2075.3,578.4 2075.6,576.4 2075.9,574.4 2076.2,572.4 2076.5,570.4 2076.8,568.5 2077.1,566.5 2077.4,564.5 2077.7,562.5 2078.0,560.5 2078.3,558.6 2078.6,556.6 2078.8,554.6 2079.1,552.6 2079.4,550.6 2079.7,548.7 2080.0,546.7 2080.3,544.7 2080.6,542.7 2080.9,540.7 2081.1,538.7 2081.4,536.8 2081.7,534.8 2082.0,532.8 2082.2,530.8 2082.5,528.8 2082.8,526.8 2083.1,524.9 2083.3,522.9 2083.6,520.9 2083.9,518.9 2084.1,516.9 2084.4,514.9 2084.7,513.0 2084.9,511.0 2085.2,509.0 2085.5,507.0 2085.7,505.0 2086.0,503.0 2086.3,501.1 2086.5,499.1 2086.8,497.1 2087.0,495.1 2087.3,493.1 2087.5,491.1 2087.8,489.1 2088.0,487.2 2088.3,485.2 2088.5,483.2 2088.8,481.2 2089.0,479.2 2089.3,477.2 2089.5,475.2 2089.8,473.2 2090.0,471.3 2090.3,469.3 2090.5,467.3 2090.7,465.3 2091.0,463.3 2091.2,461.3 2091.5,459.3 2091.7,457.3 2091.9,455.4 2092.2,453.4 2092.4,451.4 2092.6,449.4 2092.9,447.4 2093.1,445.4 2093.3,443.4 2093.6,441.4 2093.8,439.4 2094.0,437.5 2094.2,435.5 2094.5,433.5 2094.7,431.5 2094.9,429.5 2095.1,427.5 2095.4,425.5 2095.6,423.5 2095.8,421.5 2096.0,419.6 2096.2,417.6 2096.5,415.6 2096.7,413.6 2096.9,411.6 2097.1,409.6 2097.3,407.6 2097.5,405.6 2097.8,403.6 2098.0,401.6 2098.2,399.6 2098.4,397.7 2098.6,395.7 2098.8,393.7 2099.0,391.7 2099.2,389.7 2099.4,387.7 2099.7,385.7 2099.9,383.7 2100.1,381.7 2100.3,379.7 2100.5,377.7 2100.7,375.8 2100.9,373.8 2101.1,371.8 2101.3,369.8 2101.5,367.8 2101.7,365.8 2101.9,363.8 2102.1,361.8 2102.3,359.8 2102.5,357.8 2102.7,355.8 2102.9,353.8 2103.1,351.8 2103.3,349.9 2103.5,347.9 2103.7,345.9 2103.9,343.9 2104.1,341.9 2104.3,339.9 2104.5,337.9 2104.7,335.9 2104.9,333.9 2105.1,331.9 2105.2,329.9 2105.4,327.9 2105.6,325.9 2105.8,324.0 2106.0,322.0 2106.2,320.0 2106.4,318.0 2106.6,316.0 2106.8,314.0 2107.0,312.0 2107.2,310.0 2107.3,308.0 2107.5,306.0 2107.7,304.0 2107.9,302.0 2108.1,300.0 2108.3,298.0 2108.5,296.0 2108.6,294.1 2108.8,292.1 2109.0,290.1 2109.2,288.1 2109.4,286.1 2109.6,284.1 2109.8,282.1 2109.9,280.1 2110.1,278.1 2110.3,276.1 2110.5,274.1 2110.7,272.1 2110.9,270.1 2111.0,268.1 2111.2,266.1 2111.4,264.1 2111.6,262.2 2111.8,260.2 2111.9,258.2 2112.1,256.2 2112.3,254.2 2112.5,252.2 2112.7,250.2 2112.8,248.2 2113.0,246.2 2113.2,244.2 2113.4,242.2 2113.6,240.2 2113.7,238.2 2113.9,236.2 2114.1,234.2 2114.3,232.2 2114.5,230.2 2114.6,228.3 2114.8,226.3 2115.0,224.3 2115.2,222.3 2115.4,220.3 2115.5,218.3 2115.7,216.3 2115.9,214.3 2116.1,212.3 2116.2,210.3 2116.4,208.3 2116.6,206.3 2116.8,204.3 2117.0,202.3 2117.1,200.3 2117.3,198.3 2117.5,196.4 2117.7,194.4 2117.9,192.4 2118.0,190.4 2118.2,188.4 2118.4,186.4 2118.6,184.4 2118.8,182.4 2118.9,180.4 2119.1,178.4 2119.3,176.4 2119.5,174.4 2119.7,172.4 2119.8,170.4 2120.0,168.4 2120.2,166.4 2120.4,164.4 2120.6,162.5 2120.7,160.5 2120.9,158.5 2121.1,156.5 2121.3,154.5 2121.5,152.5 2121.6,150.5 2121.8,148.5 2122.0,146.5" fill="none" stroke="#1A6FDF" stroke-width="12" stroke-dasharray="20.4 37.2 20.0 23.8 20.0 25.9 20.0 32.6 20.0 24.4 20.0 25.1 20.0 27.7 20.0 31.7 20.0 32.8 20.0 32.4 20.0 33.0 20.0 26.9 15.3 31.1 20.0 33.0 15.6 32.2 20.0 33.0 20.0 26.1 17.0 30.1 18.0 31.1 15.0 29.1 16.0 32.0 20.0 25.3 28.6 27.8 20.0 21.6 20.0 25.7 20.0 26.2 20.0 26.3 20.0 27.3 20.0 27.0 20.0 27.7 20.0 27.4 20.0 28.4 20.0 30.3 20.0 30.5 20.0 29.8 20.0 33.8 20.0 16.9 20.0 33.0 20.0 30.6 20.0 30.1 20.0 32.5 20.0 31.8 20.0 32.6 20.0 31.1 20.0 32.5 20.0 31.3 20.0 31.5 20.0 32.0 20.0 32.3 20.0 31.6 20.0 30.2 2.0 51.0" stroke-linejoin="round" shape-rendering="crispEdges"/>
<path d="M540.5,1378.0 541.2,1376.1 541.9,1374.2 542.6,1372.4 543.2,1370.5 543.9,1368.6 544.6,1366.7 545.3,1364.8 546.0,1363.0 546.7,1361.1 547.4,1359.2 548.2,1357.4 548.9,1355.5 549.6,1353.6 550.3,1351.7 551.0,1349.9 551.8,1348.0 552.5,1346.1 553.2,1344.3 553.9,1342.4 554.7,1340.6 555.4,1338.7 556.2,1336.8 556.9,1335.0 557.6,1333.1 558.4,1331.3 559.1,1329.4 559.9,1327.6 560.6,1325.7 561.4,1323.8 562.2,1322.0 562.9,1320.1 563.7,1318.3 564.4,1316.4 565.2,1314.6 566.0,1312.7 566.7,1310.9 567.5,1309.0 568.3,1307.2 569.1,1305.3 569.8,1303.5 570.6,1301.7 571.4,1299.8 572.2,1298.0 572.9,1296.1 573.7,1294.3 574.5,1292.4 575.3,1290.6 576.1,1288.8 576.9,1286.9 577.7,1285.1 578.4,1283.2 579.2,1281.4 580.0,1279.6 580.8,1277.7 581.6,1275.9 582.4,1274.0 583.2,1272.2 584.0,1270.4 584.8,1268.5 585.6,1266.7 586.4,1264.8 587.2,1263.0 587.9,1261.2 588.7,1259.3 589.5,1257.5 590.3,1255.7 591.1,1253.8 591.9,1252.0 592.7,1250.2 593.5,1248.3 594.3,1246.5 595.1,1244.6 595.9,1242.8 596.7,1241.0 597.5,1239.1 598.3,1237.3 599.1,1235.5 599.9,1233.6 600.7,1231.8 601.5,1230.0 602.3,1228.1 603.2,1226.3 604.0,1224.5 604.8,1222.7 605.7,1220.9 606.5,1219.0 607.4,1217.2 608.2,1215.4 609.1,1213.6 610.0,1211.8 610.9,1210.1 611.8,1208.3 612.8,1206.5 613.7,1204.7 614.7,1203.0 615.6,1201.2 616.6,1199.5 617.6,1197.8 618.6,1196.0 619.7,1194.3 620.7,1192.6 621.8,1190.9 622.9,1189.3 624.0,1187.6 625.2,1185.9 626.3,1184.3 627.5,1182.7 628.7,1181.1 629.9,1179.5 631.2,1178.0 632.5,1176.4 633.8,1174.9 635.1,1173.4 636.5,1171.9 637.8,1170.5 639.2,1169.0 640.7,1167.6 642.1,1166.3 643.6,1164.9 645.1,1163.6 646.7,1162.3 648.2,1161.1 649.8,1159.9 651.4,1158.7 653.1,1157.6 654.7,1156.4 656.4,1155.4 658.2,1154.3 659.9,1153.4 661.7,1152.4 663.4,1151.5 665.2,1150.6 667.1,1149.8 668.9,1149.1 670.8,1148.4 672.7,1147.7 674.6,1147.1 676.5,1146.6 678.5,1146.1 680.5,1145.7 682.4,1145.4 684.4,1145.2 686.4,1145.1 688.4,1145.0 690.4,1145.0 692.4,1145.2 694.4,1145.4 696.4,1145.7 698.4,1146.0 700.3,1146.5 702.3,1146.9 704.2,1147.4 706.1,1148.0 708.0,1148.5 710.0,1149.1 711.9,1149.6 713.8,1150.2 715.7,1150.7 717.7,1151.3 719.6,1151.8 721.5,1152.3 723.5,1152.7 725.4,1153.2 727.4,1153.6 729.3,1154.1 731.3,1154.5 733.3,1154.9 735.2,1155.3 737.2,1155.6 739.2,1156.0 741.1,1156.3 743.1,1156.6 745.1,1156.9 747.1,1157.2 749.1,1157.5 751.0,1157.8 753.0,1158.0 755.0,1158.3 757.0,1158.5 759.0,1158.7 761.0,1158.9 763.0,1159.1 765.0,1159.3 767.0,1159.4 769.0,1159.6 771.0,1159.7 773.0,1159.9 775.0,1160.0 777.0,1160.1 779.0,1160.2 781.0,1160.3 783.0,1160.4 785.0,1160.5 787.0,1160.5 789.0,1160.6 791.0,1160.6 793.0,1160.7 795.0,1160.7 797.0,1160.7 799.0,1160.7 801.0,1160.7 803.0,1160.7 805.0,1160.7 807.0,1160.7 809.0,1160.7 811.0,1160.7 813.0,1160.7 815.0,1160.6 817.0,1160.6 819.0,1160.5 821.0,1160.5 823.0,1160.4 825.0,1160.4 827.0,1160.3 829.0,1160.3 831.0,1160.2 833.0,1160.1 835.0,1160.1 837.0,1160.0 839.0,1159.9 841.0,1159.9 843.0,1159.8 845.0,1159.7 847.0,1159.6 849.0,1159.6 851.0,1159.5 853.0,1159.4 855.0,1159.3 857.0,1159.3 859.0,1159.2 861.0,1159.1 863.0,1159.0 865.0,1159.0 867.0,1158.9 869.0,1158.8 871.0,1158.7 873.0,1158.7 875.0,1158.6 877.0,1158.5 879.0,1158.4 881.0,1158.4 883.0,1158.3 885.0,1158.2 887.0,1158.2 889.0,1158.1 891.0,1158.0 893.0,1157.9 895.0,1157.9 897.0,1157.8 899.0,1157.7 901.0,1157.7 903.0,1157.6 905.0,1157.5 907.0,1157.4 909.0,1157.4 911.0,1157.3 913.0,1157.2 915.0,1157.2 917.0,1157.1 919.0,1157.0 921.0,1157.0 923.0,1156.9 925.0,1156.8 927.0,1156.8 929.0,1156.7 931.0,1156.6 933.0,1156.6 935.0,1156.5 937.0,1156.4 939.0,1156.4 941.0,1156.3 943.0,1156.3 945.0,1156.2 947.0,1156.1 949.0,1156.1 951.0,1156.0 953.0,1155.9 955.0,1155.9 957.0,1155.8 959.0,1155.8 961.0,1155.7 963.0,1155.6 965.0,1155.6 967.0,1155.5 969.0,1155.5 971.0,1155.4 973.0,1155.3 975.0,1155.3 977.0,1155.2 979.0,1155.2 981.0,1155.1 983.0,1155.1 985.0,1155.0 987.0,1154.9 989.0,1154.9 991.1,1154.8 993.1,1154.8 995.1,1154.7 997.1,1154.7 999.1,1154.6 1001.1,1154.6 1003.1,1154.5 1005.1,1154.5 1007.1,1154.4 1009.1,1154.4 1011.1,1154.3 1013.1,1154.3 1015.1,1154.2 1017.1,1154.2 1019.1,1154.1 1021.1,1154.1 1023.1,1154.0 1025.1,1154.0 1027.1,1153.9 1029.1,1153.9 1031.1,1153.8 1033.1,1153.8 1035.1,1153.7 1037.1,1153.7 1039.1,1153.6 1041.1,1153.6 1043.1,1153.5 1045.1,1153.5 1047.1,1153.5 1049.1,1153.4 1051.1,1153.4 1053.1,1153.3 1055.1,1153.3 1057.1,1153.2 1059.1,1153.2 1061.1,1153.2 1063.1,1153.1 1065.1,1153.1 1067.1,1153.1 1069.1,1153.0 1071.1,1153.0 1073.1,1152.9 1075.1,1152.9 1077.1,1152.9 1079.1,1152.8 1081.1,1152.8 1083.1,1152.8 1085.1,1152.7 1087.1,1152.7 1089.1,1152.7 1091.1,1152.6 1093.1,1152.6 1095.1,1152.6 1097.1,1152.5 1099.1,1152.5 1101.1,1152.5 1103.1,1152.4 1105.1,1152.4 1107.1,1152.4 1109.1,1152.3 1111.1,1152.3 1113.1,1152.3 1115.1,1152.3 1117.1,1152.2 1119.1,1152.2 1121.1,1152.2 1123.1,1152.2 1125.1,1152.1 1127.1,1152.1 1129.1,1152.1 1131.2,1152.1 1133.2,1152.0 1135.2,1152.0 1137.2,1152.0 1139.2,1152.0 1141.2,1152.0 1143.2,1151.9 1145.2,1151.9 1147.2,1151.9 1149.2,1151.9 1151.2,1151.9 1153.2,1151.8 1155.2,1151.8 1157.2,1151.8 1159.2,1151.8 1161.2,1151.8 1163.2,1151.8 1165.2,1151.8 1167.2,1151.7 1169.2,1151.7 1171.2,1151.7 1173.2,1151.7 1175.2,1151.7 1177.2,1151.7 1179.2,1151.7 1181.2,1151.7 1183.2,1151.7 1185.2,1151.7 1187.2,1151.6 1189.2,1151.6 1191.2,1151.6 1193.2,1151.6 1195.2,1151.6 1197.2,1151.6 1199.2,1151.6 1201.2,1151.6 1203.2,1151.6 1205.2,1151.6 1207.2,1151.6 1209.2,1151.6 1211.2,1151.6 1213.2,1151.6 1215.2,1151.6 1217.2,1151.6 1219.2,1151.6 1221.2,1151.6 1223.2,1151.6 1225.2,1151.6 1227.2,1151.6 1229.2,1151.6 1231.2,1151.6 1233.2,1151.6 1235.2,1151.7 1237.2,1151.7 1239.2,1151.7 1241.3,1151.7 1243.3,1151.7 1245.3,1151.7 1247.3,1151.7 1249.3,1151.7 1251.3,1151.7 1253.3,1151.7 1255.3,1151.8 1257.3,1151.8 1259.3,1151.8 1261.3,1151.8 1263.3,1151.8 1265.3,1151.8 1267.3,1151.9 1269.3,1151.9 1271.3,1151.9 1273.3,1151.9 1275.3,1151.9 1277.3,1152.0 1279.3,1152.0 1281.3,1152.0 1283.3,1152.0 1285.3,1152.0 1287.3,1152.1 1289.3,1152.1 1291.3,1152.1 1293.3,1152.1 1295.3,1152.2 1297.3,1152.2 1299.3,1152.2 1301.3,1152.3 1303.3,1152.3 1305.3,1152.3 1307.3,1152.3 1309.3,1152.4 1311.3,1152.4 1313.3,1152.4 1315.3,1152.4 1317.3,1152.5 1319.3,1152.5 1321.3,1152.5 1323.3,1152.5 1325.3,1152.6 1327.3,1152.6 1329.3,1152.6 1331.3,1152.6 1333.3,1152.6 1335.3,1152.7 1337.3,1152.7 1339.3,1152.7 1341.3,1152.7 1343.3,1152.7 1345.3,1152.8 1347.3,1152.8 1349.3,1152.8 1351.3,1152.8 1353.3,1152.8 1355.4,1152.8 1357.4,1152.8 1359.4,1152.8 1361.4,1152.8 1363.4,1152.8 1365.4,1152.8 1367.4,1152.8 1369.4,1152.8 1371.4,1152.8 1373.4,1152.8 1375.4,1152.8 1377.4,1152.8 1379.4,1152.8 1381.4,1152.8 1383.4,1152.8 1385.4,1152.7 1387.4,1152.7 1389.4,1152.7 1391.4,1152.7 1393.4,1152.6 1395.4,1152.6 1397.4,1152.6 1399.4,1152.5 1401.4,1152.5 1403.4,1152.5 1405.4,1152.4 1407.4,1152.4 1409.4,1152.3 1411.4,1152.3 1413.4,1152.2 1415.4,1152.2 1417.4,1152.1 1419.4,1152.0 1421.4,1152.0 1423.4,1151.9 1425.4,1151.8 1427.4,1151.7 1429.4,1151.7 1431.4,1151.6 1433.4,1151.5 1435.4,1151.4 1437.4,1151.3 1439.4,1151.2 1441.4,1151.1 1443.4,1151.0 1445.4,1150.9 1447.4,1150.8 1449.4,1150.6 1451.4,1150.5 1453.4,1150.4 1455.4,1150.3 1457.4,1150.1 1459.4,1150.0 1461.4,1149.8 1463.4,1149.7 1465.4,1149.5 1467.4,1149.4 1469.4,1149.2 1471.4,1149.0 1473.4,1148.9 1475.3,1148.7 1477.3,1148.5 1479.3,1148.3 1481.3,1148.1 1483.3,1147.9 1485.3,1147.7 1487.3,1147.5 1489.3,1147.3 1491.3,1147.1 1493.3,1146.9 1495.3,1146.6 1497.2,1146.4 1499.2,1146.2 1501.2,1145.9 1503.2,1145.7 1505.2,1145.4 1507.2,1145.1 1509.2,1144.9 1511.1,1144.6 1513.1,1144.3 1515.1,1144.0 1517.1,1143.7 1519.1,1143.4 1521.0,1143.1 1523.0,1142.8 1525.0,1142.5 1527.0,1142.2 1528.9,1141.9 1530.9,1141.5 1532.9,1141.2 1534.9,1140.8 1536.8,1140.5 1538.8,1140.1 1540.8,1139.7 1542.7,1139.4 1544.7,1139.0 1546.7,1138.6 1548.6,1138.2 1550.6,1137.8 1552.5,1137.4 1554.5,1136.9 1556.5,1136.5 1558.4,1136.1 1560.4,1135.6 1562.3,1135.2 1564.3,1134.7 1566.2,1134.3 1568.2,1133.8 1570.1,1133.3 1572.0,1132.9 1574.0,1132.4 1575.9,1131.9 1577.9,1131.4 1579.8,1130.8 1581.7,1130.3 1583.7,1129.8 1585.6,1129.2 1587.5,1128.7 1589.4,1128.1 1591.4,1127.6 1593.3,1127.0 1595.2,1126.4 1597.1,1125.8 1599.0,1125.3 1600.9,1124.7 1602.8,1124.0 1604.7,1123.4 1606.6,1122.8 1608.5,1122.2 1610.4,1121.5 1612.3,1120.9 1614.2,1120.2 1616.1,1119.5 1618.0,1118.9 1619.9,1118.2 1621.7,1117.5 1623.6,1116.8 1625.5,1116.1 1627.4,1115.4 1629.2,1114.6 1631.1,1113.9 1633.0,1113.2 1634.8,1112.4 1636.7,1111.7 1638.5,1110.9 1640.4,1110.1 1642.2,1109.3 1644.0,1108.6 1645.9,1107.8 1647.7,1107.0 1649.5,1106.1 1651.4,1105.3 1653.2,1104.5 1655.0,1103.6 1656.8,1102.8 1658.6,1101.9 1660.4,1101.1 1662.2,1100.2 1664.0,1099.3 1665.8,1098.4 1667.6,1097.5 1669.4,1096.6 1671.2,1095.7 1673.0,1094.8 1674.7,1093.9 1676.5,1092.9 1678.3,1092.0 1680.0,1091.0 1681.8,1090.1 1683.5,1089.1 1685.3,1088.1 1687.0,1087.1 1688.8,1086.1 1690.5,1085.1 1692.2,1084.1 1693.9,1083.1 1695.7,1082.1 1697.4,1081.0 1699.1,1080.0 1700.8,1078.9 1702.5,1077.9 1704.2,1076.8 1705.8,1075.7 1707.5,1074.6 1709.2,1073.5 1710.9,1072.4 1712.5,1071.3 1714.2,1070.2 1715.8,1069.0 1717.5,1067.9 1719.1,1066.8 1720.8,1065.6 1722.4,1064.4 1724.0,1063.3 1725.6,1062.1 1727.2,1060.9 1728.8,1059.7 1730.4,1058.5 1732.0,1057.2 1733.6,1056.0 1735.2,1054.8 1736.7,1053.5 1738.3,1052.3 1739.8,1051.0 1741.4,1049.7 1742.9,1048.5 1744.4,1047.2 1746.0,1045.9 1747.5,1044.6 1749.0,1043.2 1750.5,1041.9 1752.0,1040.6 1753.5,1039.2 1754.9,1037.9 1756.4,1036.5 1757.9,1035.2 1759.3,1033.8 1760.8,1032.4 1762.2,1031.0 1763.6,1029.6 1765.1,1028.2 1766.5,1026.8 1767.9,1025.4 1769.3,1023.9 1770.7,1022.5 1772.1,1021.0 1773.5,1019.6 1774.8,1018.1 1776.2,1016.7 1777.6,1015.2 1778.9,1013.7 1780.3,1012.3 1781.6,1010.8 1782.9,1009.3 1784.3,1007.8 1785.6,1006.3 1786.9,1004.8 1788.2,1003.3 1789.5,1001.8 1790.8,1000.2 1792.1,998.7 1793.4,997.2 1794.7,995.6 1796.0,994.1 1797.3,992.6 1798.5,991.0 1799.8,989.5 1801.1,987.9 1802.3,986.3 1803.6,984.8 1804.8,983.2 1806.0,981.6 1807.3,980.1 1808.5,978.5 1809.7,976.9 1811.0,975.3 1812.2,973.7 1813.4,972.2 1814.6,970.6 1815.8,969.0 1817.1,967.4 1818.3,965.8 1819.5,964.2 1820.7,962.6 1821.9,961.0 1823.1,959.4 1824.3,957.8 1825.4,956.2 1826.6,954.5 1827.8,952.9 1829.0,951.3 1830.2,949.7 1831.4,948.1 1832.6,946.5 1833.7,944.9 1834.9,943.2 1836.1,941.6 1837.3,940.0 1838.4,938.4 1839.6,936.7 1840.8,935.1 1841.9,933.5 1843.1,931.9 1844.2,930.2 1845.3,928.5 1846.4,926.9 1847.5,925.2 1848.6,923.5 1849.6,921.8 1850.6,920.0 1851.6,918.3 1852.5,916.5 1853.4,914.7 1854.3,913.0 1855.2,911.2 1856.1,909.4 1856.9,907.5 1857.8,905.7 1858.6,903.9 1859.4,902.1 1860.2,900.2 1861.1,898.4 1861.9,896.6 1862.7,894.8 1863.5,892.9 1864.4,891.1 1865.2,889.3 1866.1,887.5 1866.9,885.7 1867.8,883.9 1868.7,882.1 1869.6,880.3 1870.5,878.5 1871.4,876.7 1872.3,875.0 1873.2,873.2 1874.2,871.4 1875.1,869.6 1876.0,867.9 1877.0,866.1 1877.9,864.3 1878.9,862.6 1879.8,860.8 1880.7,859.0 1881.7,857.3 1882.6,855.5 1883.5,853.7 1884.4,851.9 1885.4,850.2 1886.3,848.4 1887.2,846.6 1888.1,844.8 1889.0,843.0 1889.8,841.2 1890.7,839.4 1891.6,837.6 1892.5,835.8 1893.3,834.0 1894.2,832.2 1895.0,830.4 1895.9,828.6 1896.7,826.7 1897.6,824.9 1898.4,823.1 1899.2,821.3 1900.0,819.4 1900.8,817.6 1901.6,815.8 1902.4,814.0 1903.2,812.1 1904.0,810.3 1904.8,808.4 1905.6,806.6 1906.4,804.7 1907.1,802.9 1907.9,801.0 1908.7,799.2 1909.4,797.3 1910.2,795.5 1910.9,793.6 1911.6,791.8 1912.4,789.9 1913.1,788.0 1913.8,786.2 1914.6,784.3 1915.3,782.4 1916.0,780.6 1916.7,778.7 1917.4,776.8 1918.1,775.0 1918.8,773.1 1919.5,771.2 1920.2,769.3 1920.9,767.4 1921.6,765.6 1922.3,763.7 1922.9,761.8 1923.6,759.9 1924.3,758.0 1924.9,756.1 1925.6,754.2 1926.3,752.4 1926.9,750.5 1927.6,748.6 1928.2,746.7 1928.9,744.8 1929.5,742.9 1930.1,741.0 1930.8,739.1 1931.4,737.2 1932.1,735.3 1932.7,733.4 1933.3,731.5 1933.9,729.6 1934.6,727.7 1935.2,725.8 1935.8,723.9 1936.4,722.0 1937.0,720.1 1937.6,718.2 1938.2,716.3 1938.8,714.3 1939.4,712.4 1940.0,710.5 1940.6,708.6 1941.2,706.7 1941.8,704.8 1942.4,702.9 1943.0,701.0 1943.6,699.1 1944.2,697.1 1944.8,695.2 1945.4,693.3 1945.9,691.4 1946.5,689.5 1947.1,687.6 1947.7,685.6 1948.3,683.7 1948.8,681.8 1949.4,679.9 1950.0,678.0 1950.5,676.1 1951.1,674.1 1951.6,672.2 1952.2,670.3 1952.8,668.4 1953.3,666.4 1953.9,664.5 1954.4,662.6 1955.0,660.7 1955.5,658.7 1956.1,656.8 1956.6,654.9 1957.1,653.0 1957.7,651.0 1958.2,649.1 1958.8,647.2 1959.3,645.2 1959.8,643.3 1960.4,641.4 1960.9,639.5 1961.4,637.5 1961.9,635.6 1962.5,633.7 1963.0,631.7 1963.5,629.8 1964.0,627.9 1964.5,625.9 1965.0,624.0 1965.5,622.1 1966.1,620.1 1966.6,618.2 1967.1,616.2 1967.6,614.3 1968.1,612.4 1968.6,610.4 1969.1,608.5 1969.6,606.5 1970.1,604.6 1970.5,602.7 1971.0,600.7 1971.5,598.8 1972.0,596.8 1972.5,594.9 1973.0,593.0 1973.5,591.0 1973.9,589.1 1974.4,587.1 1974.9,585.2 1975.4,583.2 1975.8,581.3 1976.3,579.3 1976.8,577.4 1977.3,575.5 1977.7,573.5 1978.2,571.6 1978.6,569.6 1979.1,567.7 1979.6,565.7 1980.0,563.8 1980.5,561.8 1980.9,559.9 1981.4,557.9 1981.8,556.0 1982.3,554.0 1982.7,552.1 1983.2,550.1 1983.6,548.2 1984.1,546.2 1984.5,544.3 1984.9,542.3 1985.4,540.3 1985.8,538.4 1986.2,536.4 1986.7,534.5 1987.1,532.5 1987.5,530.6 1988.0,528.6 1988.4,526.7 1988.8,524.7 1989.2,522.8 1989.7,520.8 1990.1,518.8 1990.5,516.9 1990.9,514.9 1991.3,513.0 1991.7,511.0 1992.2,509.0 1992.6,507.1 1993.0,505.1 1993.4,503.2 1993.8,501.2 1994.2,499.2 1994.6,497.3 1995.0,495.3 1995.4,493.4 1995.8,491.4 1996.2,489.4 1996.6,487.5 1997.0,485.5 1997.4,483.5 1997.8,481.6 1998.1,479.6 1998.5,477.7 1998.9,475.7 1999.3,473.7 1999.7,471.8 2000.1,469.8 2000.4,467.8 2000.8,465.9 2001.2,463.9 2001.6,461.9 2002.0,460.0 2002.3,458.0 2002.7,456.0 2003.1,454.1 2003.4,452.1 2003.8,450.1 2004.2,448.2 2004.5,446.2 2004.9,444.2 2005.3,442.3 2005.6,440.3 2006.0,438.3 2006.3,436.4 2006.7,434.4 2007.1,432.4 2007.4,430.4 2007.8,428.5 2008.1,426.5 2008.5,424.5 2008.8,422.6 2009.2,420.6 2009.5,418.6 2009.9,416.6 2010.2,414.7 2010.5,412.7 2010.9,410.7 2011.2,408.8 2011.6,406.8 2011.9,404.8 2012.2,402.8 2012.6,400.9 2012.9,398.9 2013.2,396.9 2013.6,394.9 2013.9,393.0 2014.2,391.0 2014.5,389.0 2014.9,387.0 2015.2,385.1 2015.5,383.1 2015.8,381.1 2016.2,379.1 2016.5,377.2 2016.8,375.2 2017.1,373.2 2017.4,371.2 2017.8,369.3 2018.1,367.3 2018.4,365.3 2018.7,363.3 2019.0,361.3 2019.3,359.4 2019.6,357.4 2019.9,355.4 2020.2,353.4 2020.6,351.5 2020.9,349.5 2021.2,347.5 2021.5,345.5 2021.8,343.5 2022.1,341.6 2022.4,339.6 2022.7,337.6 2023.0,335.6 2023.3,333.6 2023.6,331.7 2023.8,329.7 2024.1,327.7 2024.4,325.7 2024.7,323.7 2025.0,321.8 2025.3,319.8 2025.6,317.8 2025.9,315.8 2026.2,313.8 2026.4,311.9 2026.7,309.9 2027.0,307.9 2027.3,305.9 2027.6,303.9 2027.9,301.9 2028.1,300.0 2028.4,298.0 2028.7,296.0 2029.0,294.0 2029.2,292.0 2029.5,290.0 2029.8,288.1 2030.1,286.1 2030.3,284.1 2030.6,282.1 2030.9,280.1 2031.1,278.1 2031.4,276.2 2031.7,274.2 2031.9,272.2 2032.2,270.2 2032.5,268.2 2032.7,266.2 2033.0,264.3 2033.3,262.3 2033.5,260.3 2033.8,258.3 2034.0,256.3 2034.3,254.3 2034.6,252.4 2034.8,250.4 2035.1,248.4 2035.3,246.4 2035.6,244.4 2035.8,242.4 2036.1,240.4 2036.4,238.5 2036.6,236.5 2036.9,234.5 2037.1,232.5 2037.4,230.5 2037.6,228.5 2037.9,226.5 2038.1,224.5 2038.3,222.6 2038.6,220.6 2038.8,218.6 2039.1,216.6 2039.3,214.6 2039.6,212.6 2039.8,210.6 2040.1,208.7 2040.3,206.7 2040.5,204.7 2040.8,202.7 2041.0,200.7 2041.2,198.7 2041.5,196.7 2041.7,194.7 2042.0,192.8 2042.2,190.8 2042.4,188.8 2042.7,186.8 2042.9,184.8 2043.1,182.8 2043.4,180.8 2043.6,178.8 2043.8,176.8 2044.1,174.9 2044.3,172.9 2044.5,170.9 2044.7,168.9 2045.0,166.9 2045.2,164.9 2045.4,162.9 2045.7,160.9 2045.9,158.9 2046.1,157.0 2046.3,155.0 2046.6,153.0 2046.8,151.0 2047.0,149.0" fill="none" stroke="#38AD6A" stroke-width="12" stroke-dasharray="0.0 0.6 61.0 34.9 9.0 38.9 47.8 34.9 9.0 33.0 46.1 30.3 9.0 38.1 60.7 29.7 9.0 38.3 61.2 32.6 70.7 37.0 9.0 38.0 62.0 37.0 9.0 38.0 62.0 36.5 9.0 31.6 51.2 9.9 45.9 33.4 9.0 33.4 47.0 34.4 9.0 40.0 48.0 39.1 9.0 39.6 56.7 39.8 9.0 37.1 58.2 37.6 9.0 39.8 60.4 38.0 9.0 38.4 58.8 38.1 9.0 32.4 59.8 38.5 9.0 38.8 58.9 37.9 9.5 50.3" stroke-linejoin="round" shape-rendering="crispEdges"/>
<path d="M532.3,1377.3H548.3M544.3,1344.0L555.6,1355.3M551.2,1323.5H567.2M564.1,1289.4L575.4,1300.7M574.3,1262.5L585.6,1273.8M585.2,1235.9L596.5,1247.3M593.9,1216.3H609.9M606.3,1190.9H622.3M621.0,1163.1L632.3,1174.4M635.1,1141.6L646.4,1152.9M652.9,1119.4L664.2,1130.7M682.1,1094.7V1110.7M702.8,1081.5V1097.5M728.9,1071.4V1087.4M754.9,1063.0V1079.0M780.9,1055.2V1071.2M806.5,1048.4V1064.4M830.4,1042.8V1058.8M856.5,1037.3V1053.3M882.2,1032.4V1048.4M911.8,1027.4V1043.4M941.4,1022.6V1038.6M965.1,1020.6L976.4,1031.9M995.3,1016.4L1006.6,1027.7M1022.6,1011.3V1027.3M1031.4,1010.2V1026.2M1054.4,1007.4V1023.4M1083.7,1004.3V1020.3M1105.7,1003.9L1117.0,1015.2M1136.9,999.2V1015.2M1166.9,996.8V1012.8M1191.0,995.1V1011.1M1220.5,993.3V1009.3M1250.0,991.5V1007.5M1273.0,992.2L1284.3,1003.5M1302.0,988.4V1004.4M1326.1,986.6V1002.6M1348.7,984.7V1000.7M1373.1,982.3V998.3M1395.7,981.2L1407.1,992.5M1424.8,975.5V991.5M1447.5,971.6V987.6M1469.9,968.3L1481.2,979.6M1497.3,961.6L1508.6,972.9M1521.0,954.2V970.2M1546.3,945.9V961.9M1568.3,937.7V953.7M1590.9,927.8V943.8M1613.4,916.6V932.6M1635.9,903.5V919.5M1658.8,887.9V903.9M1673.3,874.3L1684.7,885.6M1692.4,856.9L1703.8,868.3M1711.3,837.5L1722.7,848.8M1729.8,816.2L1741.1,827.5M1743.6,801.0H1759.6M1761.5,775.2H1777.5M1776.9,750.6H1792.9M1792.1,723.9H1808.1M1805.5,697.7H1821.5M1817.8,671.7H1833.8M1830.1,644.8H1846.1M1841.7,617.9H1857.7M1852.5,585.4L1863.8,596.7M1858.5,563.0H1874.5M1869.3,528.6L1880.7,539.9M1877.6,500.8L1888.9,512.1M1883.3,478.3H1899.3M1891.1,450.5H1907.1M1900.9,416.5L1912.2,427.8M1905.8,393.4H1921.8M1914.8,359.4L1926.1,370.7M1919.0,335.9H1935.0M1925.0,307.1H1941.0M1930.9,277.6H1946.9M1936.5,248.1H1952.5M1941.8,219.0H1957.8M1946.8,189.9H1962.8M1951.8,160.4H1967.8" fill="none" stroke="#B07AE0" stroke-width="2" shape-rendering="crispEdges"/>
<g stroke="#000" stroke-width="7" fill="none" stroke-linecap="butt" shape-rendering="crispEdges">
<path d="M350.0,39.0H2294.5" stroke-width="6"/>
<path d="M365.5,39.0V1575.5M2294.5,39.0V1575.5M350.0,1575.5H2294.5"/>
<path d="M350.0,1576.17H368.5"/>
<path d="M334.0,1466.35H368.5"/>
<path d="M350.0,1356.53H368.5"/>
<path d="M334.0,1246.70H368.5"/>
<path d="M350.0,1136.88H368.5"/>
<path d="M334.0,1027.05H368.5"/>
<path d="M350.0,917.23H368.5"/>
<path d="M334.0,807.40H368.5"/>
<path d="M350.0,697.58H368.5"/>
<path d="M334.0,587.75H368.5"/>
<path d="M350.0,477.92H368.5"/>
<path d="M334.0,368.10H368.5"/>
<path d="M350.0,258.28H368.5"/>
<path d="M334.0,148.45H368.5"/>
<path d="M350.0,38.62H368.5"/>
<path d="M365.50,1572.5V1591.0"/>
<path d="M540.86,1572.5V1605.8"/>
<path d="M716.22,1572.5V1591.0"/>
<path d="M891.59,1572.5V1605.8"/>
<path d="M1066.95,1572.5V1591.0"/>
<path d="M1242.31,1572.5V1605.8"/>
<path d="M1417.67,1572.5V1591.0"/>
<path d="M1593.03,1572.5V1605.8"/>
<path d="M1768.40,1572.5V1591.0"/>
<path d="M1943.76,1572.5V1605.8"/>
<path d="M2119.12,1572.5V1591.0"/>
<path d="M2294.49,1572.5V1605.8"/>
</g>
<g filter="url(#bin)">
<g font-size="96">
<text x="314" y="1493.3" text-anchor="end">50</text>
<text x="314" y="1273.7" text-anchor="end">100</text>
<text x="314" y="1054.1" text-anchor="end">150</text>
<text x="314" y="834.4" text-anchor="end">200</text>
<text x="314" y="614.8" text-anchor="end">250</text>
<text x="314" y="395.1" text-anchor="end">300</text>
<text x="314" y="175.5" text-anchor="end">350</text>
<text x="540.9" y="1698.5" text-anchor="middle">0</text>
<text x="891.6" y="1698.5" text-anchor="middle">50</text>
<text x="1242.3" y="1698.5" text-anchor="middle">100</text>
<text x="1593.0" y="1698.5" text-anchor="middle">150</text>
<text x="1943.8" y="1698.5" text-anchor="middle">200</text>
<text x="2294.5" y="1698.5" text-anchor="middle">250</text>
</g>
<text x="1329" y="1812" font-size="95.5" text-anchor="middle">Filling time (s)</text>
<text transform="translate(120,799) rotate(-90)" font-size="95" text-anchor="middle">Tank pressure (kPa)</text>
<text x="678" y="224" font-size="88.6"><tspan font-style="italic">T</tspan><tspan dy="22">in,l</tspan><tspan dy="-22">=17 K</tspan></text>
<text x="1335" y="224" font-size="88.6"><tspan font-style="italic">T</tspan><tspan dy="22">in,l</tspan><tspan dy="-22">=18 K</tspan></text>
<text x="678" y="355.5" font-size="88.6"><tspan font-style="italic">T</tspan><tspan dy="22">in,l</tspan><tspan dy="-22">=19 K</tspan></text>
<text x="1335" y="355.5" font-size="88.6"><tspan font-style="italic">T</tspan><tspan dy="22">in,l</tspan><tspan dy="-22">=20 K</tspan></text>
<text x="678" y="487" font-size="88.6"><tspan font-style="italic">T</tspan><tspan dy="22">in,l</tspan><tspan dy="-22">=21 K</tspan></text>
</g>
<g fill="none" stroke-linecap="butt" shape-rendering="crispEdges">
<path d="M475,196H638" stroke="#505050" stroke-width="10"/>
<path d="M1132,196H1295" stroke="#EF4040" stroke-width="12" stroke-dasharray="51 65"/>
<path d="M475,327H638" stroke="#1A6FDF" stroke-width="12" stroke-dasharray="20 32.5"/>
<path d="M1132,327H1295" stroke="#38AD6A" stroke-width="12" stroke-dasharray="62 37 9 38"/>
<path d="M475,459H638" stroke="#B07AE0" stroke-width="16" stroke-dasharray="2 28"/>
</g>
</svg></body></html>
